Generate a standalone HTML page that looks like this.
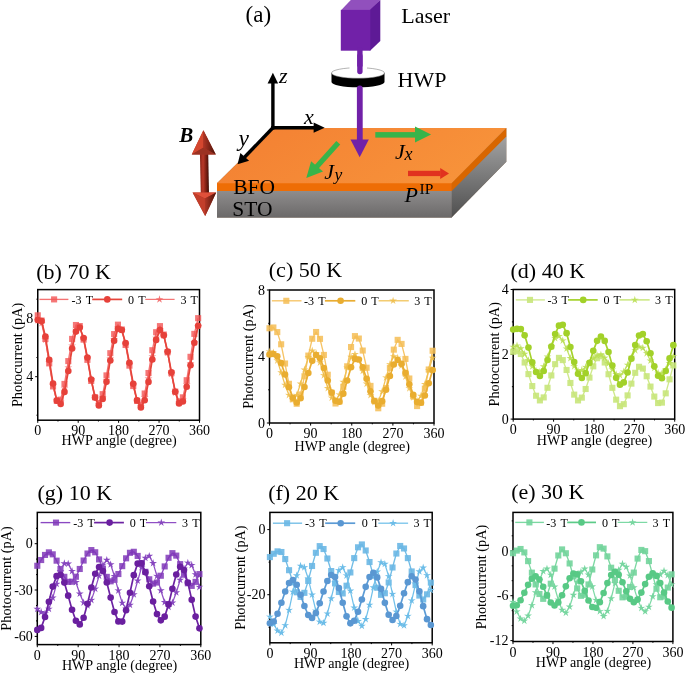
<!DOCTYPE html>
<html><head><meta charset="utf-8"><style>
html,body{margin:0;padding:0;background:#fff;width:685px;height:673px;overflow:hidden}
svg{display:block;will-change:transform}
</style></head><body>
<svg width="685" height="673" viewBox="0 0 685 673">
<rect width="685" height="673" fill="#fff"/>
<defs>
<linearGradient id="gTop" x1="0" y1="0" x2="1" y2="0.3">
 <stop offset="0" stop-color="#f37f32"/><stop offset="1" stop-color="#f7923a"/></linearGradient>
<linearGradient id="gSTOf" x1="0" y1="0" x2="0" y2="1">
 <stop offset="0" stop-color="#8f8d8d"/><stop offset="1" stop-color="#6b6969"/></linearGradient>
<linearGradient id="gSTOr" x1="0" y1="0" x2="0" y2="1">
 <stop offset="0" stop-color="#a3a3a3"/><stop offset="1" stop-color="#4f4f4f"/></linearGradient>
<linearGradient id="gB" x1="0" y1="0" x2="1" y2="0">
 <stop offset="0" stop-color="#8e2216"/><stop offset="0.3" stop-color="#d2473a"/><stop offset="0.55" stop-color="#c43a2c"/><stop offset="1" stop-color="#7a1a10"/></linearGradient>
<linearGradient id="gBh" x1="0" y1="0" x2="1" y2="0">
 <stop offset="0" stop-color="#b8392c"/><stop offset="0.45" stop-color="#e2604e"/><stop offset="0.55" stop-color="#c23828"/><stop offset="1" stop-color="#8a2418"/></linearGradient>
</defs>
<polygon points="273,128 506.3,128 506.3,161.8 451.5,217.6 217,217.6 217,183.2" fill="#8a6a50"/>
<polygon points="451.2,191 506.3,136 506.3,161.8 451.5,217.6 451.2,217.6" fill="url(#gSTOr)"/>
<rect x="217" y="190.6" width="234.7" height="27" fill="url(#gSTOf)"/>
<polygon points="451.2,183.2 506.3,128 506.3,136.4 451.5,191.2" fill="#d86600"/>
<rect x="217" y="182.8" width="234.7" height="8.2" fill="#ee6d05"/>
<polygon points="273,128 506.3,128 451.5,183.2 217,183.2" fill="url(#gTop)"/>
<polygon points="340.8,10.4 350.8,0 380.3,0 370.3,10.4" fill="#9150bd"/>
<polygon points="369.8,9.9 380.3,0 380.3,41 369.8,51" fill="#5e1a96"/>
<rect x="340.8" y="9.9" width="29.5" height="40.8" fill="#7121a8"/>
<line x1="359.9" y1="50" x2="359.9" y2="71.5" stroke="#7121a8" stroke-width="5.4" stroke-linecap="round"/>
<path d="M331.5,73 L331.5,82 A26.5,5.3 0 0 0 384.5,82 L384.5,73 Z" fill="#000"/>
<ellipse cx="358" cy="73" rx="26.5" ry="5.3" fill="#fff" stroke="#666" stroke-width="0.5"/>
<rect x="349.5" y="66.5" width="17.5" height="2.6" fill="#fff"/>
<line x1="359.9" y1="56" x2="359.9" y2="71.5" stroke="#7121a8" stroke-width="5.4" stroke-linecap="round"/>
<line x1="359.8" y1="88.5" x2="359.8" y2="140" stroke="#7121a8" stroke-width="5.8" stroke-linecap="round"/>
<polygon points="350.5,139.6 368.8,139.6 359.7,157.2" fill="#7121a8"/>
<g stroke="#000" stroke-width="3.4" fill="none"><line x1="272.9" y1="129.4" x2="272.9" y2="83"/><line x1="271.2" y1="127.7" x2="314" y2="127.7"/><line x1="273.6" y1="127.0" x2="244.5" y2="157.2"/></g>
<polygon points="267.6,83.5 278.1,83.5 272.9,72.8" fill="#000"/>
<polygon points="313.6,122.6 313.6,132.8 324.7,127.7" fill="#000"/>
<polygon points="240.4,153.1 249.1,160.7 237.6,164.2" fill="#000"/>
<rect x="375.3" y="132.1" width="40" height="5.5" fill="#37b44a"/>
<polygon points="415,126.6 415,142.5 431.1,134.5" fill="#37b44a"/>
<line x1="338.3" y1="142.8" x2="316" y2="167.5" stroke="#37b44a" stroke-width="5.2"/>
<polygon points="311.1,161.2 323,171.6 306.3,177.9" fill="#37b44a"/>
<rect x="408" y="170.8" width="32.5" height="5.3" fill="#e1321f"/>
<polygon points="440.2,168 440.2,178.9 449,173.4" fill="#e1321f"/>
<linearGradient id="gShaft" x1="0" y1="0" x2="1" y2="0"><stop offset="0" stop-color="#8a2418"/><stop offset="0.35" stop-color="#b83828"/><stop offset="0.7" stop-color="#7a1e12"/><stop offset="1" stop-color="#3a0d06"/></linearGradient>
<linearGradient id="gRF" x1="0" y1="0" x2="1" y2="0"><stop offset="0" stop-color="#b03626"/><stop offset="1" stop-color="#4a1208"/></linearGradient>
<polygon points="199.9,152 208.2,152 209,194 200.8,194" fill="url(#gShaft)"/>
<polygon points="203.4,130.3 215.8,154.5 191.8,154.5" fill="#a83424"/>
<polygon points="192.6,192.4 216.2,192.4 205.2,216" fill="#a83424"/>
<polygon points="203.4,130.3 203.2,147.7 191.8,154.5" fill="#d4472f"/>
<polygon points="203.4,130.3 215.8,154.5 203.2,147.7" fill="url(#gRF)"/>
<polygon points="191.8,154.5 203.2,147.7 215.8,154.5" fill="#9c3222"/>
<polygon points="192.6,192.4 216.2,192.4 204.9,198.6" fill="#e0503a"/>
<polygon points="192.6,192.4 204.9,198.6 205.2,216" fill="#c23e2b"/>
<polygon points="216.2,192.4 205.2,216 204.9,198.6" fill="url(#gRF)"/>
<g font-family="'Liberation Serif', serif" fill="#000">
<text x="245.6" y="22" font-size="23">(a)</text>
<text x="401.3" y="22.6" font-size="22">Laser</text>
<text x="397.6" y="87.2" font-size="22">HWP</text>
<text x="233.2" y="193.5" font-size="21.5">BFO</text>
<text x="232.3" y="216" font-size="21.5">STO</text>
<text x="279" y="83" font-size="22" font-style="italic">z</text>
<text x="304" y="124" font-size="22" font-style="italic">x</text>
<text x="238.5" y="146.3" font-size="23.5" font-style="italic">y</text>
<text x="179.2" y="141.8" font-size="21" font-style="italic" font-weight="bold">B</text>
<text x="395" y="158.5" font-size="22" font-style="italic">J</text>
<text x="404.6" y="159.8" font-size="18" font-style="italic">x</text>
<text x="324.3" y="179" font-size="22" font-style="italic">J</text>
<text x="334.5" y="180" font-size="17.5" font-style="italic">y</text>
<text x="404.5" y="201.6" font-size="22" font-style="italic">P</text>
<text x="419.5" y="193.7" font-size="15.5">IP</text>
</g>
<text x="36.3" y="278.6" font-family="'Liberation Serif', serif" font-size="22">(b) 70 K</text>
<rect x="37.75" y="289.6" width="161.75" height="130.59999999999997" fill="none" stroke="#000" stroke-width="1.5"/>
<line x1="37.75" y1="420.2" x2="37.75" y2="422.8" stroke="#000" stroke-width="1"/><line x1="57.97" y1="420.2" x2="57.97" y2="421.5" stroke="#000" stroke-width="1"/><line x1="78.19" y1="420.2" x2="78.19" y2="422.8" stroke="#000" stroke-width="1"/><line x1="98.41" y1="420.2" x2="98.41" y2="421.5" stroke="#000" stroke-width="1"/><line x1="118.62" y1="420.2" x2="118.62" y2="422.8" stroke="#000" stroke-width="1"/><line x1="138.84" y1="420.2" x2="138.84" y2="421.5" stroke="#000" stroke-width="1"/><line x1="159.06" y1="420.2" x2="159.06" y2="422.8" stroke="#000" stroke-width="1"/><line x1="179.28" y1="420.2" x2="179.28" y2="421.5" stroke="#000" stroke-width="1"/><line x1="199.50" y1="420.2" x2="199.50" y2="422.8" stroke="#000" stroke-width="1"/><line x1="37.75" y1="299.2" x2="36.45" y2="299.2" stroke="#000" stroke-width="1"/><line x1="37.75" y1="318.3" x2="35.15" y2="318.3" stroke="#000" stroke-width="1"/><line x1="37.75" y1="357.5" x2="36.45" y2="357.5" stroke="#000" stroke-width="1"/><line x1="37.75" y1="376.7" x2="35.15" y2="376.7" stroke="#000" stroke-width="1"/><line x1="37.75" y1="415.2" x2="36.45" y2="415.2" stroke="#000" stroke-width="1"/>
<g><path d="M37.75,315.32 L41.57,320.55 L45.39,338.99 L49.21,363.38 L53.03,386.43 L56.85,400.80 L60.66,399.66 L64.48,383.93 L68.30,361.11 L72.12,338.91 L75.94,325.01 L79.76,326.06 L83.58,339.63 L87.40,359.84 L91.22,380.95 L95.04,397.23 L98.86,402.93 L102.67,394.17 L106.49,375.40 L110.31,353.19 L114.13,334.10 L117.95,324.67 L121.77,329.52 L125.59,344.98 L129.41,365.64 L133.23,386.07 L137.05,400.86 L140.87,404.55 L144.68,393.51 L148.50,373.03 L152.32,350.23 L156.14,332.22 L159.96,326.11 L163.78,334.56 L167.60,352.22 L171.42,373.20 L175.24,391.60 L179.06,401.53 L182.88,397.34 L186.69,380.22 L190.51,356.82 L194.33,333.88 L198.15,318.16" fill="none" stroke="#f47272" stroke-width="1.35" stroke-opacity="1" stroke-linejoin="round"/><rect x="34.70" y="312.27" width="6.1" height="6.1" fill="#f25555" fill-opacity="0.8"/><rect x="38.52" y="317.50" width="6.1" height="6.1" fill="#f25555" fill-opacity="0.8"/><rect x="42.34" y="335.94" width="6.1" height="6.1" fill="#f25555" fill-opacity="0.8"/><rect x="46.16" y="360.33" width="6.1" height="6.1" fill="#f25555" fill-opacity="0.8"/><rect x="49.98" y="383.38" width="6.1" height="6.1" fill="#f25555" fill-opacity="0.8"/><rect x="53.80" y="397.75" width="6.1" height="6.1" fill="#f25555" fill-opacity="0.8"/><rect x="57.61" y="396.61" width="6.1" height="6.1" fill="#f25555" fill-opacity="0.8"/><rect x="61.43" y="380.88" width="6.1" height="6.1" fill="#f25555" fill-opacity="0.8"/><rect x="65.25" y="358.06" width="6.1" height="6.1" fill="#f25555" fill-opacity="0.8"/><rect x="69.07" y="335.86" width="6.1" height="6.1" fill="#f25555" fill-opacity="0.8"/><rect x="72.89" y="321.96" width="6.1" height="6.1" fill="#f25555" fill-opacity="0.8"/><rect x="76.71" y="323.01" width="6.1" height="6.1" fill="#f25555" fill-opacity="0.8"/><rect x="80.53" y="336.58" width="6.1" height="6.1" fill="#f25555" fill-opacity="0.8"/><rect x="84.35" y="356.79" width="6.1" height="6.1" fill="#f25555" fill-opacity="0.8"/><rect x="88.17" y="377.90" width="6.1" height="6.1" fill="#f25555" fill-opacity="0.8"/><rect x="91.99" y="394.18" width="6.1" height="6.1" fill="#f25555" fill-opacity="0.8"/><rect x="95.81" y="399.88" width="6.1" height="6.1" fill="#f25555" fill-opacity="0.8"/><rect x="99.62" y="391.12" width="6.1" height="6.1" fill="#f25555" fill-opacity="0.8"/><rect x="103.44" y="372.35" width="6.1" height="6.1" fill="#f25555" fill-opacity="0.8"/><rect x="107.26" y="350.14" width="6.1" height="6.1" fill="#f25555" fill-opacity="0.8"/><rect x="111.08" y="331.05" width="6.1" height="6.1" fill="#f25555" fill-opacity="0.8"/><rect x="114.90" y="321.62" width="6.1" height="6.1" fill="#f25555" fill-opacity="0.8"/><rect x="118.72" y="326.47" width="6.1" height="6.1" fill="#f25555" fill-opacity="0.8"/><rect x="122.54" y="341.93" width="6.1" height="6.1" fill="#f25555" fill-opacity="0.8"/><rect x="126.36" y="362.59" width="6.1" height="6.1" fill="#f25555" fill-opacity="0.8"/><rect x="130.18" y="383.02" width="6.1" height="6.1" fill="#f25555" fill-opacity="0.8"/><rect x="134.00" y="397.81" width="6.1" height="6.1" fill="#f25555" fill-opacity="0.8"/><rect x="137.82" y="401.50" width="6.1" height="6.1" fill="#f25555" fill-opacity="0.8"/><rect x="141.63" y="390.46" width="6.1" height="6.1" fill="#f25555" fill-opacity="0.8"/><rect x="145.45" y="369.98" width="6.1" height="6.1" fill="#f25555" fill-opacity="0.8"/><rect x="149.27" y="347.18" width="6.1" height="6.1" fill="#f25555" fill-opacity="0.8"/><rect x="153.09" y="329.17" width="6.1" height="6.1" fill="#f25555" fill-opacity="0.8"/><rect x="156.91" y="323.06" width="6.1" height="6.1" fill="#f25555" fill-opacity="0.8"/><rect x="160.73" y="331.51" width="6.1" height="6.1" fill="#f25555" fill-opacity="0.8"/><rect x="164.55" y="349.17" width="6.1" height="6.1" fill="#f25555" fill-opacity="0.8"/><rect x="168.37" y="370.15" width="6.1" height="6.1" fill="#f25555" fill-opacity="0.8"/><rect x="172.19" y="388.55" width="6.1" height="6.1" fill="#f25555" fill-opacity="0.8"/><rect x="176.01" y="398.48" width="6.1" height="6.1" fill="#f25555" fill-opacity="0.8"/><rect x="179.83" y="394.29" width="6.1" height="6.1" fill="#f25555" fill-opacity="0.8"/><rect x="183.64" y="377.17" width="6.1" height="6.1" fill="#f25555" fill-opacity="0.8"/><rect x="187.46" y="353.77" width="6.1" height="6.1" fill="#f25555" fill-opacity="0.8"/><rect x="191.28" y="330.83" width="6.1" height="6.1" fill="#f25555" fill-opacity="0.8"/><rect x="195.10" y="315.11" width="6.1" height="6.1" fill="#f25555" fill-opacity="0.8"/><path d="M37.75,320.36 L41.57,323.30 L45.39,339.74 L49.21,362.81 L53.03,385.50 L56.85,400.79 L60.66,401.91 L64.48,388.66 L68.30,367.65 L72.12,345.82 L75.94,330.13 L79.76,327.35 L83.58,338.49 L87.40,357.83 L91.22,379.31 L95.04,396.88 L98.86,404.49 L102.67,397.74 L106.49,380.42 L110.31,358.80 L114.13,339.19 L117.95,327.85 L121.77,330.19 L125.59,344.17 L129.41,364.28 L133.23,385.02 L137.05,400.91 L140.87,406.42 L144.68,397.55 L148.50,378.70 L152.32,356.59 L156.14,337.96 L159.96,329.53 L163.78,335.88 L167.60,352.78 L171.42,373.85 L175.24,392.72 L179.06,403.01 L182.88,399.47 L186.69,384.48 L190.51,363.61 L194.33,342.39 L198.15,326.38" fill="none" stroke="#f47575" stroke-width="1.25" stroke-opacity="1" stroke-linejoin="round"/><path d="M37.75,316.26 L38.62,319.17 L41.65,319.10 L39.15,320.82 L40.16,323.68 L37.75,321.84 L35.34,323.68 L36.35,320.82 L33.85,319.10 L36.88,319.17Z" fill="#f26262" fill-opacity="0.85"/><path d="M41.57,319.20 L42.44,322.11 L45.47,322.04 L42.97,323.76 L43.98,326.62 L41.57,324.78 L39.16,326.62 L40.17,323.76 L37.67,322.04 L40.70,322.11Z" fill="#f26262" fill-opacity="0.85"/><path d="M45.39,335.64 L46.26,338.54 L49.29,338.47 L46.79,340.19 L47.80,343.05 L45.39,341.21 L42.98,343.05 L43.98,340.19 L41.49,338.47 L44.52,338.54Z" fill="#f26262" fill-opacity="0.85"/><path d="M49.21,358.71 L50.07,361.61 L53.11,361.54 L50.61,363.26 L51.62,366.12 L49.21,364.28 L46.80,366.12 L47.80,363.26 L45.31,361.54 L48.34,361.61Z" fill="#f26262" fill-opacity="0.85"/><path d="M53.03,381.40 L53.89,384.30 L56.93,384.23 L54.43,385.95 L55.44,388.81 L53.03,386.97 L50.62,388.81 L51.62,385.95 L49.13,384.23 L52.16,384.30Z" fill="#f26262" fill-opacity="0.85"/><path d="M56.85,396.69 L57.71,399.59 L60.74,399.52 L58.25,401.24 L59.26,404.10 L56.85,402.26 L54.44,404.10 L55.44,401.24 L52.95,399.52 L55.98,399.59Z" fill="#f26262" fill-opacity="0.85"/><path d="M60.66,397.81 L61.53,400.72 L64.56,400.65 L62.07,402.37 L63.07,405.23 L60.66,403.39 L58.25,405.23 L59.26,402.37 L56.77,400.65 L59.80,400.72Z" fill="#f26262" fill-opacity="0.85"/><path d="M64.48,384.56 L65.35,387.46 L68.38,387.39 L65.89,389.11 L66.89,391.97 L64.48,390.13 L62.07,391.97 L63.08,389.11 L60.58,387.39 L63.62,387.46Z" fill="#f26262" fill-opacity="0.85"/><path d="M68.30,363.55 L69.17,366.45 L72.20,366.38 L69.71,368.10 L70.71,370.96 L68.30,369.12 L65.89,370.96 L66.90,368.10 L64.40,366.38 L67.44,366.45Z" fill="#f26262" fill-opacity="0.85"/><path d="M72.12,341.72 L72.99,344.63 L76.02,344.56 L73.53,346.28 L74.53,349.14 L72.12,347.30 L69.71,349.14 L70.72,346.28 L68.22,344.56 L71.25,344.63Z" fill="#f26262" fill-opacity="0.85"/><path d="M75.94,326.03 L76.81,328.94 L79.84,328.86 L77.34,330.59 L78.35,333.45 L75.94,331.61 L73.53,333.45 L74.54,330.59 L72.04,328.86 L75.07,328.94Z" fill="#f26262" fill-opacity="0.85"/><path d="M79.76,323.25 L80.63,326.15 L83.66,326.08 L81.16,327.80 L82.17,330.66 L79.76,328.82 L77.35,330.66 L78.36,327.80 L75.86,326.08 L78.89,326.15Z" fill="#f26262" fill-opacity="0.85"/><path d="M83.58,334.39 L84.45,337.30 L87.48,337.22 L84.98,338.95 L85.99,341.81 L83.58,339.97 L81.17,341.81 L82.18,338.95 L79.68,337.22 L82.71,337.30Z" fill="#f26262" fill-opacity="0.85"/><path d="M87.40,353.73 L88.27,356.64 L91.30,356.56 L88.80,358.29 L89.81,361.15 L87.40,359.31 L84.99,361.15 L85.99,358.29 L83.50,356.56 L86.53,356.64Z" fill="#f26262" fill-opacity="0.85"/><path d="M91.22,375.21 L92.08,378.12 L95.12,378.04 L92.62,379.77 L93.63,382.63 L91.22,380.79 L88.81,382.63 L89.81,379.77 L87.32,378.04 L90.35,378.12Z" fill="#f26262" fill-opacity="0.85"/><path d="M95.04,392.78 L95.90,395.69 L98.94,395.61 L96.44,397.34 L97.45,400.20 L95.04,398.36 L92.63,400.20 L93.63,397.34 L91.14,395.61 L94.17,395.69Z" fill="#f26262" fill-opacity="0.85"/><path d="M98.86,400.39 L99.72,403.29 L102.75,403.22 L100.26,404.94 L101.27,407.81 L98.86,405.96 L96.45,407.81 L97.45,404.94 L94.96,403.22 L97.99,403.29Z" fill="#f26262" fill-opacity="0.85"/><path d="M102.67,393.64 L103.54,396.54 L106.57,396.47 L104.08,398.20 L105.08,401.06 L102.67,399.22 L100.26,401.06 L101.27,398.20 L98.78,396.47 L101.81,396.54Z" fill="#f26262" fill-opacity="0.85"/><path d="M106.49,376.32 L107.36,379.22 L110.39,379.15 L107.90,380.87 L108.90,383.73 L106.49,381.89 L104.08,383.73 L105.09,380.87 L102.59,379.15 L105.63,379.22Z" fill="#f26262" fill-opacity="0.85"/><path d="M110.31,354.70 L111.18,357.61 L114.21,357.54 L111.72,359.26 L112.72,362.12 L110.31,360.28 L107.90,362.12 L108.91,359.26 L106.41,357.54 L109.45,357.61Z" fill="#f26262" fill-opacity="0.85"/><path d="M114.13,335.09 L115.00,337.99 L118.03,337.92 L115.54,339.64 L116.54,342.50 L114.13,340.66 L111.72,342.50 L112.73,339.64 L110.23,337.92 L113.26,337.99Z" fill="#f26262" fill-opacity="0.85"/><path d="M117.95,323.75 L118.82,326.66 L121.85,326.59 L119.35,328.31 L120.36,331.17 L117.95,329.33 L115.54,331.17 L116.55,328.31 L114.05,326.59 L117.08,326.66Z" fill="#f26262" fill-opacity="0.85"/><path d="M121.77,326.09 L122.64,329.00 L125.67,328.93 L123.17,330.65 L124.18,333.51 L121.77,331.67 L119.36,333.51 L120.37,330.65 L117.87,328.93 L120.90,329.00Z" fill="#f26262" fill-opacity="0.85"/><path d="M125.59,340.07 L126.46,342.97 L129.49,342.90 L126.99,344.62 L128.00,347.49 L125.59,345.64 L123.18,347.49 L124.19,344.62 L121.69,342.90 L124.72,342.97Z" fill="#f26262" fill-opacity="0.85"/><path d="M129.41,360.18 L130.28,363.08 L133.31,363.01 L130.81,364.73 L131.82,367.60 L129.41,365.75 L127.00,367.60 L128.00,364.73 L125.51,363.01 L128.54,363.08Z" fill="#f26262" fill-opacity="0.85"/><path d="M133.23,380.92 L134.10,383.83 L137.13,383.76 L134.63,385.48 L135.64,388.34 L133.23,386.50 L130.82,388.34 L131.82,385.48 L129.33,383.76 L132.36,383.83Z" fill="#f26262" fill-opacity="0.85"/><path d="M137.05,396.81 L137.91,399.71 L140.95,399.64 L138.45,401.36 L139.46,404.23 L137.05,402.38 L134.64,404.23 L135.64,401.36 L133.15,399.64 L136.18,399.71Z" fill="#f26262" fill-opacity="0.85"/><path d="M140.87,402.32 L141.73,405.23 L144.76,405.15 L142.27,406.88 L143.28,409.74 L140.87,407.90 L138.46,409.74 L139.46,406.88 L136.97,405.15 L140.00,405.23Z" fill="#f26262" fill-opacity="0.85"/><path d="M144.68,393.45 L145.55,396.36 L148.58,396.29 L146.09,398.01 L147.09,400.87 L144.68,399.03 L142.27,400.87 L143.28,398.01 L140.79,396.29 L143.82,396.36Z" fill="#f26262" fill-opacity="0.85"/><path d="M148.50,374.60 L149.37,377.50 L152.40,377.43 L149.91,379.15 L150.91,382.01 L148.50,380.17 L146.09,382.01 L147.10,379.15 L144.60,377.43 L147.64,377.50Z" fill="#f26262" fill-opacity="0.85"/><path d="M152.32,352.49 L153.19,355.39 L156.22,355.32 L153.73,357.04 L154.73,359.90 L152.32,358.06 L149.91,359.90 L150.92,357.04 L148.42,355.32 L151.46,355.39Z" fill="#f26262" fill-opacity="0.85"/><path d="M156.14,333.86 L157.01,336.76 L160.04,336.69 L157.55,338.41 L158.55,341.27 L156.14,339.43 L153.73,341.27 L154.74,338.41 L152.24,336.69 L155.27,336.76Z" fill="#f26262" fill-opacity="0.85"/><path d="M159.96,325.43 L160.83,328.34 L163.86,328.27 L161.36,329.99 L162.37,332.85 L159.96,331.01 L157.55,332.85 L158.56,329.99 L156.06,328.27 L159.09,328.34Z" fill="#f26262" fill-opacity="0.85"/><path d="M163.78,331.78 L164.65,334.69 L167.68,334.62 L165.18,336.34 L166.19,339.20 L163.78,337.36 L161.37,339.20 L162.38,336.34 L159.88,334.62 L162.91,334.69Z" fill="#f26262" fill-opacity="0.85"/><path d="M167.60,348.68 L168.47,351.59 L171.50,351.51 L169.00,353.24 L170.01,356.10 L167.60,354.26 L165.19,356.10 L166.20,353.24 L163.70,351.51 L166.73,351.59Z" fill="#f26262" fill-opacity="0.85"/><path d="M171.42,369.75 L172.29,372.65 L175.32,372.58 L172.82,374.30 L173.83,377.16 L171.42,375.32 L169.01,377.16 L170.01,374.30 L167.52,372.58 L170.55,372.65Z" fill="#f26262" fill-opacity="0.85"/><path d="M175.24,388.62 L176.11,391.52 L179.14,391.45 L176.64,393.17 L177.65,396.03 L175.24,394.19 L172.83,396.03 L173.83,393.17 L171.34,391.45 L174.37,391.52Z" fill="#f26262" fill-opacity="0.85"/><path d="M179.06,398.91 L179.92,401.82 L182.96,401.75 L180.46,403.47 L181.47,406.33 L179.06,404.49 L176.65,406.33 L177.65,403.47 L175.16,401.75 L178.19,401.82Z" fill="#f26262" fill-opacity="0.85"/><path d="M182.88,395.37 L183.74,398.27 L186.78,398.20 L184.28,399.92 L185.29,402.78 L182.88,400.94 L180.47,402.78 L181.47,399.92 L178.98,398.20 L182.01,398.27Z" fill="#f26262" fill-opacity="0.85"/><path d="M186.69,380.38 L187.56,383.29 L190.59,383.22 L188.10,384.94 L189.10,387.80 L186.69,385.96 L184.28,387.80 L185.29,384.94 L182.80,383.22 L185.83,383.29Z" fill="#f26262" fill-opacity="0.85"/><path d="M190.51,359.51 L191.38,362.41 L194.41,362.34 L191.92,364.06 L192.92,366.93 L190.51,365.08 L188.10,366.93 L189.11,364.06 L186.61,362.34 L189.65,362.41Z" fill="#f26262" fill-opacity="0.85"/><path d="M194.33,338.29 L195.20,341.20 L198.23,341.12 L195.74,342.85 L196.74,345.71 L194.33,343.87 L191.92,345.71 L192.93,342.85 L190.43,341.12 L193.47,341.20Z" fill="#f26262" fill-opacity="0.85"/><path d="M198.15,322.28 L199.02,325.18 L202.05,325.11 L199.56,326.83 L200.56,329.70 L198.15,327.85 L195.74,329.70 L196.75,326.83 L194.25,325.11 L197.28,325.18Z" fill="#f26262" fill-opacity="0.85"/><path d="M37.75,320.11 L41.57,321.08 L45.39,336.54 L49.21,359.76 L53.03,383.53 L56.85,400.64 L60.66,403.98 L64.48,391.92 L68.30,371.01 L72.12,348.50 L75.94,331.62 L79.76,327.52 L83.58,338.10 L87.40,357.56 L91.22,379.52 L95.04,397.62 L98.86,405.49 L102.67,398.88 L106.49,381.85 L110.31,360.46 L114.13,340.74 L117.95,328.77 L121.77,329.99 L125.59,343.12 L129.41,362.81 L133.23,383.69 L137.05,400.38 L140.87,407.49 L144.68,400.24 L148.50,381.90 L152.32,359.45 L156.14,339.88 L159.96,330.17 L163.78,335.35 L167.60,351.50 L171.42,372.37 L175.24,391.74 L179.06,403.39 L182.88,401.50 L186.69,386.78 L190.51,365.18 L194.33,342.81 L198.15,325.76" fill="none" stroke="#e6453b" stroke-width="1.7" stroke-opacity="1" stroke-linejoin="round"/><circle cx="37.75" cy="320.11" r="3.3" fill="#e6413a" fill-opacity="1"/><circle cx="41.57" cy="321.08" r="3.3" fill="#e6413a" fill-opacity="1"/><circle cx="45.39" cy="336.54" r="3.3" fill="#e6413a" fill-opacity="1"/><circle cx="49.21" cy="359.76" r="3.3" fill="#e6413a" fill-opacity="1"/><circle cx="53.03" cy="383.53" r="3.3" fill="#e6413a" fill-opacity="1"/><circle cx="56.85" cy="400.64" r="3.3" fill="#e6413a" fill-opacity="1"/><circle cx="60.66" cy="403.98" r="3.3" fill="#e6413a" fill-opacity="1"/><circle cx="64.48" cy="391.92" r="3.3" fill="#e6413a" fill-opacity="1"/><circle cx="68.30" cy="371.01" r="3.3" fill="#e6413a" fill-opacity="1"/><circle cx="72.12" cy="348.50" r="3.3" fill="#e6413a" fill-opacity="1"/><circle cx="75.94" cy="331.62" r="3.3" fill="#e6413a" fill-opacity="1"/><circle cx="79.76" cy="327.52" r="3.3" fill="#e6413a" fill-opacity="1"/><circle cx="83.58" cy="338.10" r="3.3" fill="#e6413a" fill-opacity="1"/><circle cx="87.40" cy="357.56" r="3.3" fill="#e6413a" fill-opacity="1"/><circle cx="91.22" cy="379.52" r="3.3" fill="#e6413a" fill-opacity="1"/><circle cx="95.04" cy="397.62" r="3.3" fill="#e6413a" fill-opacity="1"/><circle cx="98.86" cy="405.49" r="3.3" fill="#e6413a" fill-opacity="1"/><circle cx="102.67" cy="398.88" r="3.3" fill="#e6413a" fill-opacity="1"/><circle cx="106.49" cy="381.85" r="3.3" fill="#e6413a" fill-opacity="1"/><circle cx="110.31" cy="360.46" r="3.3" fill="#e6413a" fill-opacity="1"/><circle cx="114.13" cy="340.74" r="3.3" fill="#e6413a" fill-opacity="1"/><circle cx="117.95" cy="328.77" r="3.3" fill="#e6413a" fill-opacity="1"/><circle cx="121.77" cy="329.99" r="3.3" fill="#e6413a" fill-opacity="1"/><circle cx="125.59" cy="343.12" r="3.3" fill="#e6413a" fill-opacity="1"/><circle cx="129.41" cy="362.81" r="3.3" fill="#e6413a" fill-opacity="1"/><circle cx="133.23" cy="383.69" r="3.3" fill="#e6413a" fill-opacity="1"/><circle cx="137.05" cy="400.38" r="3.3" fill="#e6413a" fill-opacity="1"/><circle cx="140.87" cy="407.49" r="3.3" fill="#e6413a" fill-opacity="1"/><circle cx="144.68" cy="400.24" r="3.3" fill="#e6413a" fill-opacity="1"/><circle cx="148.50" cy="381.90" r="3.3" fill="#e6413a" fill-opacity="1"/><circle cx="152.32" cy="359.45" r="3.3" fill="#e6413a" fill-opacity="1"/><circle cx="156.14" cy="339.88" r="3.3" fill="#e6413a" fill-opacity="1"/><circle cx="159.96" cy="330.17" r="3.3" fill="#e6413a" fill-opacity="1"/><circle cx="163.78" cy="335.35" r="3.3" fill="#e6413a" fill-opacity="1"/><circle cx="167.60" cy="351.50" r="3.3" fill="#e6413a" fill-opacity="1"/><circle cx="171.42" cy="372.37" r="3.3" fill="#e6413a" fill-opacity="1"/><circle cx="175.24" cy="391.74" r="3.3" fill="#e6413a" fill-opacity="1"/><circle cx="179.06" cy="403.39" r="3.3" fill="#e6413a" fill-opacity="1"/><circle cx="182.88" cy="401.50" r="3.3" fill="#e6413a" fill-opacity="1"/><circle cx="186.69" cy="386.78" r="3.3" fill="#e6413a" fill-opacity="1"/><circle cx="190.51" cy="365.18" r="3.3" fill="#e6413a" fill-opacity="1"/><circle cx="194.33" cy="342.81" r="3.3" fill="#e6413a" fill-opacity="1"/><circle cx="198.15" cy="325.76" r="3.3" fill="#e6413a" fill-opacity="1"/></g>
<line x1="39.4" y1="299.4" x2="68.4" y2="299.4" stroke="#f47272" stroke-width="1.35" stroke-opacity="1"/>
<rect x="51.05" y="296.35" width="6.1" height="6.1" fill="#f25555" fill-opacity="0.8"/>
<text x="71.60000000000001" y="303.59999999999997" font-family="'Liberation Serif', serif" font-size="12.1" word-spacing="1.3">-3 T</text>
<line x1="92.2" y1="299.4" x2="122.2" y2="299.4" stroke="#e6453b" stroke-width="1.7" stroke-opacity="1"/>
<circle cx="107.30" cy="299.40" r="3.3" fill="#e6413a" fill-opacity="1"/>
<text x="128.1" y="303.59999999999997" font-family="'Liberation Serif', serif" font-size="12.1" word-spacing="1.3">0 T</text>
<line x1="145.3" y1="299.4" x2="174.6" y2="299.4" stroke="#f47575" stroke-width="1.25" stroke-opacity="1"/>
<path d="M159.50,295.30 L160.37,298.21 L163.40,298.13 L160.90,299.86 L161.91,302.72 L159.50,300.88 L157.09,302.72 L158.10,299.86 L155.60,298.13 L158.63,298.21Z" fill="#f26262" fill-opacity="0.85"/>
<text x="180.4" y="303.59999999999997" font-family="'Liberation Serif', serif" font-size="12.1" word-spacing="1.3">3 T</text>
<g font-family="'Liberation Serif', serif" font-size="14">
<text x="37.75" y="435.2" text-anchor="middle">0</text>
<text x="78.19" y="435.2" text-anchor="middle">90</text>
<text x="118.62" y="435.2" text-anchor="middle">180</text>
<text x="159.06" y="435.2" text-anchor="middle">270</text>
<text x="199.50" y="435.2" text-anchor="middle">360</text>
<text x="33.25" y="323.0" text-anchor="end">8</text>
<text x="33.25" y="381.4" text-anchor="end">4</text>
<text x="119.12" y="444.7" text-anchor="middle" font-size="14.1">HWP angle (degree)</text>
<text transform="translate(22,354.90) rotate(-90)" text-anchor="middle" font-size="14.3">Photocurrent (pA)</text>
</g>
<text x="268.8" y="276.7" font-family="'Liberation Serif', serif" font-size="22">(c) 50 K</text>
<rect x="269.5" y="290" width="164.5" height="133" fill="none" stroke="#000" stroke-width="1.5"/>
<line x1="269.50" y1="423" x2="269.50" y2="425.6" stroke="#000" stroke-width="1"/><line x1="290.06" y1="423" x2="290.06" y2="424.3" stroke="#000" stroke-width="1"/><line x1="310.62" y1="423" x2="310.62" y2="425.6" stroke="#000" stroke-width="1"/><line x1="331.19" y1="423" x2="331.19" y2="424.3" stroke="#000" stroke-width="1"/><line x1="351.75" y1="423" x2="351.75" y2="425.6" stroke="#000" stroke-width="1"/><line x1="372.31" y1="423" x2="372.31" y2="424.3" stroke="#000" stroke-width="1"/><line x1="392.88" y1="423" x2="392.88" y2="425.6" stroke="#000" stroke-width="1"/><line x1="413.44" y1="423" x2="413.44" y2="424.3" stroke="#000" stroke-width="1"/><line x1="434.00" y1="423" x2="434.00" y2="425.6" stroke="#000" stroke-width="1"/><line x1="269.5" y1="290" x2="266.9" y2="290" stroke="#000" stroke-width="1"/><line x1="269.5" y1="323.3" x2="268.2" y2="323.3" stroke="#000" stroke-width="1"/><line x1="269.5" y1="356.5" x2="266.9" y2="356.5" stroke="#000" stroke-width="1"/><line x1="269.5" y1="389.8" x2="268.2" y2="389.8" stroke="#000" stroke-width="1"/><line x1="269.5" y1="423" x2="266.9" y2="423" stroke="#000" stroke-width="1"/>
<g><path d="M269.50,328.27 L273.38,327.50 L277.27,332.11 L281.15,344.29 L285.04,363.51 L288.92,383.81 L292.80,399.21 L296.69,403.75 L300.57,394.43 L304.46,376.27 L308.34,355.59 L312.22,338.73 L316.11,332.01 L319.99,338.86 L323.88,354.95 L327.76,374.75 L331.64,392.76 L335.53,403.48 L339.41,401.45 L343.30,386.79 L347.18,366.30 L351.06,347.05 L354.95,336.11 L358.83,338.55 L362.72,350.54 L366.60,367.73 L370.48,385.89 L374.37,400.81 L378.25,408.27 L382.14,403.72 L386.02,388.11 L389.90,367.90 L393.79,349.64 L397.67,339.86 L401.56,343.92 L405.44,358.92 L409.32,378.52 L413.21,396.35 L417.09,406.08 L420.98,402.60 L424.86,388.59 L428.75,369.50 L432.63,350.75" fill="none" stroke="#f6c466" stroke-width="1.35" stroke-opacity="1" stroke-linejoin="round"/><rect x="266.45" y="325.22" width="6.1" height="6.1" fill="#f4bd55" fill-opacity="0.85"/><rect x="270.33" y="324.45" width="6.1" height="6.1" fill="#f4bd55" fill-opacity="0.85"/><rect x="274.22" y="329.06" width="6.1" height="6.1" fill="#f4bd55" fill-opacity="0.85"/><rect x="278.10" y="341.24" width="6.1" height="6.1" fill="#f4bd55" fill-opacity="0.85"/><rect x="281.99" y="360.46" width="6.1" height="6.1" fill="#f4bd55" fill-opacity="0.85"/><rect x="285.87" y="380.76" width="6.1" height="6.1" fill="#f4bd55" fill-opacity="0.85"/><rect x="289.75" y="396.16" width="6.1" height="6.1" fill="#f4bd55" fill-opacity="0.85"/><rect x="293.64" y="400.70" width="6.1" height="6.1" fill="#f4bd55" fill-opacity="0.85"/><rect x="297.52" y="391.38" width="6.1" height="6.1" fill="#f4bd55" fill-opacity="0.85"/><rect x="301.41" y="373.22" width="6.1" height="6.1" fill="#f4bd55" fill-opacity="0.85"/><rect x="305.29" y="352.54" width="6.1" height="6.1" fill="#f4bd55" fill-opacity="0.85"/><rect x="309.17" y="335.68" width="6.1" height="6.1" fill="#f4bd55" fill-opacity="0.85"/><rect x="313.06" y="328.96" width="6.1" height="6.1" fill="#f4bd55" fill-opacity="0.85"/><rect x="316.94" y="335.81" width="6.1" height="6.1" fill="#f4bd55" fill-opacity="0.85"/><rect x="320.83" y="351.90" width="6.1" height="6.1" fill="#f4bd55" fill-opacity="0.85"/><rect x="324.71" y="371.70" width="6.1" height="6.1" fill="#f4bd55" fill-opacity="0.85"/><rect x="328.59" y="389.71" width="6.1" height="6.1" fill="#f4bd55" fill-opacity="0.85"/><rect x="332.48" y="400.43" width="6.1" height="6.1" fill="#f4bd55" fill-opacity="0.85"/><rect x="336.36" y="398.40" width="6.1" height="6.1" fill="#f4bd55" fill-opacity="0.85"/><rect x="340.25" y="383.74" width="6.1" height="6.1" fill="#f4bd55" fill-opacity="0.85"/><rect x="344.13" y="363.25" width="6.1" height="6.1" fill="#f4bd55" fill-opacity="0.85"/><rect x="348.01" y="344.00" width="6.1" height="6.1" fill="#f4bd55" fill-opacity="0.85"/><rect x="351.90" y="333.06" width="6.1" height="6.1" fill="#f4bd55" fill-opacity="0.85"/><rect x="355.78" y="335.50" width="6.1" height="6.1" fill="#f4bd55" fill-opacity="0.85"/><rect x="359.67" y="347.49" width="6.1" height="6.1" fill="#f4bd55" fill-opacity="0.85"/><rect x="363.55" y="364.68" width="6.1" height="6.1" fill="#f4bd55" fill-opacity="0.85"/><rect x="367.43" y="382.84" width="6.1" height="6.1" fill="#f4bd55" fill-opacity="0.85"/><rect x="371.32" y="397.76" width="6.1" height="6.1" fill="#f4bd55" fill-opacity="0.85"/><rect x="375.20" y="405.22" width="6.1" height="6.1" fill="#f4bd55" fill-opacity="0.85"/><rect x="379.09" y="400.67" width="6.1" height="6.1" fill="#f4bd55" fill-opacity="0.85"/><rect x="382.97" y="385.06" width="6.1" height="6.1" fill="#f4bd55" fill-opacity="0.85"/><rect x="386.85" y="364.85" width="6.1" height="6.1" fill="#f4bd55" fill-opacity="0.85"/><rect x="390.74" y="346.59" width="6.1" height="6.1" fill="#f4bd55" fill-opacity="0.85"/><rect x="394.62" y="336.81" width="6.1" height="6.1" fill="#f4bd55" fill-opacity="0.85"/><rect x="398.51" y="340.87" width="6.1" height="6.1" fill="#f4bd55" fill-opacity="0.85"/><rect x="402.39" y="355.87" width="6.1" height="6.1" fill="#f4bd55" fill-opacity="0.85"/><rect x="406.27" y="375.47" width="6.1" height="6.1" fill="#f4bd55" fill-opacity="0.85"/><rect x="410.16" y="393.30" width="6.1" height="6.1" fill="#f4bd55" fill-opacity="0.85"/><rect x="414.04" y="403.03" width="6.1" height="6.1" fill="#f4bd55" fill-opacity="0.85"/><rect x="417.93" y="399.55" width="6.1" height="6.1" fill="#f4bd55" fill-opacity="0.85"/><rect x="421.81" y="385.54" width="6.1" height="6.1" fill="#f4bd55" fill-opacity="0.85"/><rect x="425.70" y="366.45" width="6.1" height="6.1" fill="#f4bd55" fill-opacity="0.85"/><rect x="429.58" y="347.70" width="6.1" height="6.1" fill="#f4bd55" fill-opacity="0.85"/><path d="M269.50,351.64 L273.38,352.59 L277.27,360.57 L281.15,372.45 L285.04,385.03 L288.92,395.11 L292.80,399.49 L296.69,395.12 L300.57,383.75 L304.46,369.69 L308.34,357.24 L312.22,350.72 L316.11,353.24 L319.99,362.56 L323.88,375.32 L327.76,388.19 L331.64,397.83 L335.53,400.89 L339.41,394.57 L343.30,381.94 L347.18,367.82 L351.06,357.02 L354.95,354.27 L358.83,360.05 L362.72,370.98 L366.60,383.81 L370.48,395.31 L374.37,402.23 L378.25,401.17 L382.14,391.46 L386.02,377.57 L389.90,364.33 L393.79,356.55 L397.67,357.83 L401.56,365.61 L405.44,376.79 L409.32,388.39 L413.21,397.45 L417.09,401.00 L420.98,395.96 L424.86,384.24 L428.75,370.15 L432.63,358.00" fill="none" stroke="#f1c154" stroke-width="1.25" stroke-opacity="1" stroke-linejoin="round"/><path d="M269.50,347.54 L270.37,350.45 L273.40,350.37 L270.90,352.10 L271.91,354.96 L269.50,353.12 L267.09,354.96 L268.10,352.10 L265.60,350.37 L268.63,350.45Z" fill="#efbc48" fill-opacity="0.85"/><path d="M273.38,348.49 L274.25,351.39 L277.28,351.32 L274.79,353.04 L275.79,355.90 L273.38,354.06 L270.97,355.90 L271.98,353.04 L269.48,351.32 L272.52,351.39Z" fill="#efbc48" fill-opacity="0.85"/><path d="M277.27,356.47 L278.14,359.37 L281.17,359.30 L278.67,361.02 L279.68,363.88 L277.27,362.04 L274.86,363.88 L275.86,361.02 L273.37,359.30 L276.40,359.37Z" fill="#efbc48" fill-opacity="0.85"/><path d="M281.15,368.35 L282.02,371.26 L285.05,371.18 L282.56,372.91 L283.56,375.77 L281.15,373.93 L278.74,375.77 L279.75,372.91 L277.25,371.18 L280.28,371.26Z" fill="#efbc48" fill-opacity="0.85"/><path d="M285.04,380.93 L285.90,383.84 L288.94,383.77 L286.44,385.49 L287.45,388.35 L285.04,386.51 L282.63,388.35 L283.63,385.49 L281.14,383.77 L284.17,383.84Z" fill="#efbc48" fill-opacity="0.85"/><path d="M288.92,391.01 L289.79,393.92 L292.82,393.85 L290.32,395.57 L291.33,398.43 L288.92,396.59 L286.51,398.43 L287.52,395.57 L285.02,393.85 L288.05,393.92Z" fill="#efbc48" fill-opacity="0.85"/><path d="M292.80,395.39 L293.67,398.29 L296.70,398.22 L294.21,399.94 L295.21,402.81 L292.80,400.96 L290.39,402.81 L291.40,399.94 L288.90,398.22 L291.94,398.29Z" fill="#efbc48" fill-opacity="0.85"/><path d="M296.69,391.02 L297.56,393.92 L300.59,393.85 L298.09,395.57 L299.10,398.43 L296.69,396.59 L294.28,398.43 L295.28,395.57 L292.79,393.85 L295.82,393.92Z" fill="#efbc48" fill-opacity="0.85"/><path d="M300.57,379.65 L301.44,382.55 L304.47,382.48 L301.98,384.20 L302.98,387.06 L300.57,385.22 L298.16,387.06 L299.17,384.20 L296.67,382.48 L299.70,382.55Z" fill="#efbc48" fill-opacity="0.85"/><path d="M304.46,365.59 L305.32,368.49 L308.36,368.42 L305.86,370.14 L306.87,373.00 L304.46,371.16 L302.05,373.00 L303.05,370.14 L300.56,368.42 L303.59,368.49Z" fill="#efbc48" fill-opacity="0.85"/><path d="M308.34,353.14 L309.21,356.05 L312.24,355.97 L309.74,357.70 L310.75,360.56 L308.34,358.72 L305.93,360.56 L306.94,357.70 L304.44,355.97 L307.47,356.05Z" fill="#efbc48" fill-opacity="0.85"/><path d="M312.22,346.62 L313.09,349.52 L316.12,349.45 L313.63,351.17 L314.63,354.03 L312.22,352.19 L309.81,354.03 L310.82,351.17 L308.32,349.45 L311.36,349.52Z" fill="#efbc48" fill-opacity="0.85"/><path d="M316.11,349.14 L316.98,352.05 L320.01,351.97 L317.51,353.70 L318.52,356.56 L316.11,354.72 L313.70,356.56 L314.70,353.70 L312.21,351.97 L315.24,352.05Z" fill="#efbc48" fill-opacity="0.85"/><path d="M319.99,358.46 L320.86,361.37 L323.89,361.29 L321.40,363.02 L322.40,365.88 L319.99,364.04 L317.58,365.88 L318.59,363.02 L316.09,361.29 L319.12,361.37Z" fill="#efbc48" fill-opacity="0.85"/><path d="M323.88,371.22 L324.74,374.13 L327.78,374.06 L325.28,375.78 L326.29,378.64 L323.88,376.80 L321.47,378.64 L322.47,375.78 L319.98,374.06 L323.01,374.13Z" fill="#efbc48" fill-opacity="0.85"/><path d="M327.76,384.09 L328.63,387.00 L331.66,386.93 L329.16,388.65 L330.17,391.51 L327.76,389.67 L325.35,391.51 L326.36,388.65 L323.86,386.93 L326.89,387.00Z" fill="#efbc48" fill-opacity="0.85"/><path d="M331.64,393.73 L332.51,396.64 L335.54,396.57 L333.05,398.29 L334.05,401.15 L331.64,399.31 L329.23,401.15 L330.24,398.29 L327.75,396.57 L330.78,396.64Z" fill="#efbc48" fill-opacity="0.85"/><path d="M335.53,396.79 L336.40,399.70 L339.43,399.63 L336.93,401.35 L337.94,404.21 L335.53,402.37 L333.12,404.21 L334.12,401.35 L331.63,399.63 L334.66,399.70Z" fill="#efbc48" fill-opacity="0.85"/><path d="M339.41,390.47 L340.28,393.38 L343.31,393.31 L340.82,395.03 L341.82,397.89 L339.41,396.05 L337.00,397.89 L338.01,395.03 L335.51,393.31 L338.54,393.38Z" fill="#efbc48" fill-opacity="0.85"/><path d="M343.30,377.84 L344.16,380.75 L347.20,380.67 L344.70,382.40 L345.71,385.26 L343.30,383.42 L340.89,385.26 L341.89,382.40 L339.40,380.67 L342.43,380.75Z" fill="#efbc48" fill-opacity="0.85"/><path d="M347.18,363.72 L348.05,366.62 L351.08,366.55 L348.58,368.27 L349.59,371.13 L347.18,369.29 L344.77,371.13 L345.78,368.27 L343.28,366.55 L346.31,366.62Z" fill="#efbc48" fill-opacity="0.85"/><path d="M351.06,352.92 L351.93,355.82 L354.96,355.75 L352.47,357.47 L353.47,360.34 L351.06,358.49 L348.65,360.34 L349.66,357.47 L347.17,355.75 L350.20,355.82Z" fill="#efbc48" fill-opacity="0.85"/><path d="M354.95,350.17 L355.82,353.07 L358.85,353.00 L356.35,354.72 L357.36,357.58 L354.95,355.74 L352.54,357.58 L353.54,354.72 L351.05,353.00 L354.08,353.07Z" fill="#efbc48" fill-opacity="0.85"/><path d="M358.83,355.95 L359.70,358.86 L362.73,358.79 L360.24,360.51 L361.24,363.37 L358.83,361.53 L356.42,363.37 L357.43,360.51 L354.93,358.79 L357.97,358.86Z" fill="#efbc48" fill-opacity="0.85"/><path d="M362.72,366.88 L363.58,369.79 L366.62,369.71 L364.12,371.44 L365.13,374.30 L362.72,372.46 L360.31,374.30 L361.31,371.44 L358.82,369.71 L361.85,369.79Z" fill="#efbc48" fill-opacity="0.85"/><path d="M366.60,379.71 L367.47,382.62 L370.50,382.54 L368.00,384.27 L369.01,387.13 L366.60,385.29 L364.19,387.13 L365.20,384.27 L362.70,382.54 L365.73,382.62Z" fill="#efbc48" fill-opacity="0.85"/><path d="M370.48,391.21 L371.35,394.11 L374.38,394.04 L371.89,395.76 L372.89,398.62 L370.48,396.78 L368.07,398.62 L369.08,395.76 L366.59,394.04 L369.62,394.11Z" fill="#efbc48" fill-opacity="0.85"/><path d="M374.37,398.13 L375.24,401.04 L378.27,400.96 L375.77,402.69 L376.78,405.55 L374.37,403.71 L371.96,405.55 L372.96,402.69 L370.47,400.96 L373.50,401.04Z" fill="#efbc48" fill-opacity="0.85"/><path d="M378.25,397.07 L379.12,399.98 L382.15,399.91 L379.66,401.63 L380.66,404.49 L378.25,402.65 L375.84,404.49 L376.85,401.63 L374.35,399.91 L377.39,399.98Z" fill="#efbc48" fill-opacity="0.85"/><path d="M382.14,387.36 L383.00,390.26 L386.04,390.19 L383.54,391.91 L384.55,394.77 L382.14,392.93 L379.73,394.77 L380.73,391.91 L378.24,390.19 L381.27,390.26Z" fill="#efbc48" fill-opacity="0.85"/><path d="M386.02,373.47 L386.89,376.38 L389.92,376.30 L387.42,378.03 L388.43,380.89 L386.02,379.05 L383.61,380.89 L384.62,378.03 L382.12,376.30 L385.15,376.38Z" fill="#efbc48" fill-opacity="0.85"/><path d="M389.90,360.23 L390.77,363.13 L393.80,363.06 L391.31,364.78 L392.31,367.64 L389.90,365.80 L387.49,367.64 L388.50,364.78 L386.01,363.06 L389.04,363.13Z" fill="#efbc48" fill-opacity="0.85"/><path d="M393.79,352.45 L394.66,355.35 L397.69,355.28 L395.19,357.00 L396.20,359.87 L393.79,358.02 L391.38,359.87 L392.39,357.00 L389.89,355.28 L392.92,355.35Z" fill="#efbc48" fill-opacity="0.85"/><path d="M397.67,353.73 L398.54,356.64 L401.57,356.56 L399.08,358.29 L400.08,361.15 L397.67,359.31 L395.26,361.15 L396.27,358.29 L393.77,356.56 L396.81,356.64Z" fill="#efbc48" fill-opacity="0.85"/><path d="M401.56,361.51 L402.42,364.42 L405.46,364.34 L402.96,366.07 L403.97,368.93 L401.56,367.09 L399.15,368.93 L400.15,366.07 L397.66,364.34 L400.69,364.42Z" fill="#efbc48" fill-opacity="0.85"/><path d="M405.44,372.69 L406.31,375.59 L409.34,375.52 L406.84,377.24 L407.85,380.10 L405.44,378.26 L403.03,380.10 L404.04,377.24 L401.54,375.52 L404.57,375.59Z" fill="#efbc48" fill-opacity="0.85"/><path d="M409.32,384.29 L410.19,387.20 L413.22,387.12 L410.73,388.85 L411.73,391.71 L409.32,389.87 L406.92,391.71 L407.92,388.85 L405.43,387.12 L408.46,387.20Z" fill="#efbc48" fill-opacity="0.85"/><path d="M413.21,393.35 L414.08,396.26 L417.11,396.18 L414.61,397.91 L415.62,400.77 L413.21,398.93 L410.80,400.77 L411.81,397.91 L409.31,396.18 L412.34,396.26Z" fill="#efbc48" fill-opacity="0.85"/><path d="M417.09,396.90 L417.96,399.80 L420.99,399.73 L418.50,401.45 L419.50,404.31 L417.09,402.47 L414.68,404.31 L415.69,401.45 L413.19,399.73 L416.23,399.80Z" fill="#efbc48" fill-opacity="0.85"/><path d="M420.98,391.86 L421.84,394.76 L424.88,394.69 L422.38,396.41 L423.39,399.27 L420.98,397.43 L418.57,399.27 L419.57,396.41 L417.08,394.69 L420.11,394.76Z" fill="#efbc48" fill-opacity="0.85"/><path d="M424.86,380.14 L425.73,383.05 L428.76,382.97 L426.26,384.70 L427.27,387.56 L424.86,385.72 L422.45,387.56 L423.46,384.70 L420.96,382.97 L423.99,383.05Z" fill="#efbc48" fill-opacity="0.85"/><path d="M428.75,366.05 L429.61,368.96 L432.64,368.88 L430.15,370.61 L431.16,373.47 L428.75,371.63 L426.34,373.47 L427.34,370.61 L424.85,368.88 L427.88,368.96Z" fill="#efbc48" fill-opacity="0.85"/><path d="M432.63,353.90 L433.50,356.80 L436.53,356.73 L434.03,358.45 L435.04,361.31 L432.63,359.47 L430.22,361.31 L431.23,358.45 L428.73,356.73 L431.76,356.80Z" fill="#efbc48" fill-opacity="0.85"/><path d="M269.50,354.46 L273.38,354.01 L277.27,356.27 L281.15,363.09 L285.04,374.57 L288.92,387.26 L292.80,397.72 L296.69,402.47 L300.57,398.30 L304.46,386.98 L308.34,372.99 L312.22,360.85 L316.11,355.06 L319.99,358.35 L323.88,367.94 L327.76,380.44 L331.64,392.50 L335.53,400.76 L339.41,401.76 L343.30,393.65 L347.18,380.50 L351.06,367.27 L354.95,358.89 L358.83,359.49 L362.72,367.23 L366.60,378.84 L370.48,391.18 L374.37,401.10 L378.25,405.48 L382.14,401.14 L386.02,389.76 L389.90,376.00 L393.79,364.53 L397.67,360.01 L401.56,363.89 L405.44,372.91 L409.32,384.19 L413.21,394.86 L417.09,402.05 L420.98,402.80 L424.86,395.45 L428.75,383.23 L432.63,370.01" fill="none" stroke="#e9ad33" stroke-width="1.7" stroke-opacity="1" stroke-linejoin="round"/><circle cx="269.50" cy="354.46" r="3.3" fill="#e9ad30" fill-opacity="1"/><circle cx="273.38" cy="354.01" r="3.3" fill="#e9ad30" fill-opacity="1"/><circle cx="277.27" cy="356.27" r="3.3" fill="#e9ad30" fill-opacity="1"/><circle cx="281.15" cy="363.09" r="3.3" fill="#e9ad30" fill-opacity="1"/><circle cx="285.04" cy="374.57" r="3.3" fill="#e9ad30" fill-opacity="1"/><circle cx="288.92" cy="387.26" r="3.3" fill="#e9ad30" fill-opacity="1"/><circle cx="292.80" cy="397.72" r="3.3" fill="#e9ad30" fill-opacity="1"/><circle cx="296.69" cy="402.47" r="3.3" fill="#e9ad30" fill-opacity="1"/><circle cx="300.57" cy="398.30" r="3.3" fill="#e9ad30" fill-opacity="1"/><circle cx="304.46" cy="386.98" r="3.3" fill="#e9ad30" fill-opacity="1"/><circle cx="308.34" cy="372.99" r="3.3" fill="#e9ad30" fill-opacity="1"/><circle cx="312.22" cy="360.85" r="3.3" fill="#e9ad30" fill-opacity="1"/><circle cx="316.11" cy="355.06" r="3.3" fill="#e9ad30" fill-opacity="1"/><circle cx="319.99" cy="358.35" r="3.3" fill="#e9ad30" fill-opacity="1"/><circle cx="323.88" cy="367.94" r="3.3" fill="#e9ad30" fill-opacity="1"/><circle cx="327.76" cy="380.44" r="3.3" fill="#e9ad30" fill-opacity="1"/><circle cx="331.64" cy="392.50" r="3.3" fill="#e9ad30" fill-opacity="1"/><circle cx="335.53" cy="400.76" r="3.3" fill="#e9ad30" fill-opacity="1"/><circle cx="339.41" cy="401.76" r="3.3" fill="#e9ad30" fill-opacity="1"/><circle cx="343.30" cy="393.65" r="3.3" fill="#e9ad30" fill-opacity="1"/><circle cx="347.18" cy="380.50" r="3.3" fill="#e9ad30" fill-opacity="1"/><circle cx="351.06" cy="367.27" r="3.3" fill="#e9ad30" fill-opacity="1"/><circle cx="354.95" cy="358.89" r="3.3" fill="#e9ad30" fill-opacity="1"/><circle cx="358.83" cy="359.49" r="3.3" fill="#e9ad30" fill-opacity="1"/><circle cx="362.72" cy="367.23" r="3.3" fill="#e9ad30" fill-opacity="1"/><circle cx="366.60" cy="378.84" r="3.3" fill="#e9ad30" fill-opacity="1"/><circle cx="370.48" cy="391.18" r="3.3" fill="#e9ad30" fill-opacity="1"/><circle cx="374.37" cy="401.10" r="3.3" fill="#e9ad30" fill-opacity="1"/><circle cx="378.25" cy="405.48" r="3.3" fill="#e9ad30" fill-opacity="1"/><circle cx="382.14" cy="401.14" r="3.3" fill="#e9ad30" fill-opacity="1"/><circle cx="386.02" cy="389.76" r="3.3" fill="#e9ad30" fill-opacity="1"/><circle cx="389.90" cy="376.00" r="3.3" fill="#e9ad30" fill-opacity="1"/><circle cx="393.79" cy="364.53" r="3.3" fill="#e9ad30" fill-opacity="1"/><circle cx="397.67" cy="360.01" r="3.3" fill="#e9ad30" fill-opacity="1"/><circle cx="401.56" cy="363.89" r="3.3" fill="#e9ad30" fill-opacity="1"/><circle cx="405.44" cy="372.91" r="3.3" fill="#e9ad30" fill-opacity="1"/><circle cx="409.32" cy="384.19" r="3.3" fill="#e9ad30" fill-opacity="1"/><circle cx="413.21" cy="394.86" r="3.3" fill="#e9ad30" fill-opacity="1"/><circle cx="417.09" cy="402.05" r="3.3" fill="#e9ad30" fill-opacity="1"/><circle cx="420.98" cy="402.80" r="3.3" fill="#e9ad30" fill-opacity="1"/><circle cx="424.86" cy="395.45" r="3.3" fill="#e9ad30" fill-opacity="1"/><circle cx="428.75" cy="383.23" r="3.3" fill="#e9ad30" fill-opacity="1"/><circle cx="432.63" cy="370.01" r="3.3" fill="#e9ad30" fill-opacity="1"/></g>
<line x1="271.9" y1="300.8" x2="301.5" y2="300.8" stroke="#f6c466" stroke-width="1.35" stroke-opacity="1"/>
<rect x="283.25" y="297.75" width="6.1" height="6.1" fill="#f4bd55" fill-opacity="0.85"/>
<text x="304.09999999999997" y="305.0" font-family="'Liberation Serif', serif" font-size="12.1" word-spacing="1.3">-3 T</text>
<line x1="324.9" y1="300.8" x2="355.3" y2="300.8" stroke="#e9ad33" stroke-width="1.7" stroke-opacity="1"/>
<circle cx="340.60" cy="300.80" r="3.3" fill="#e9ad30" fill-opacity="1"/>
<text x="361.2" y="305.0" font-family="'Liberation Serif', serif" font-size="12.1" word-spacing="1.3">0 T</text>
<line x1="378.6" y1="300.8" x2="408.8" y2="300.8" stroke="#f1c154" stroke-width="1.25" stroke-opacity="1"/>
<path d="M393.10,296.70 L393.97,299.61 L397.00,299.53 L394.50,301.26 L395.51,304.12 L393.10,302.28 L390.69,304.12 L391.70,301.26 L389.20,299.53 L392.23,299.61Z" fill="#efbc48" fill-opacity="0.85"/>
<text x="414.2" y="305.0" font-family="'Liberation Serif', serif" font-size="12.1" word-spacing="1.3">3 T</text>
<g font-family="'Liberation Serif', serif" font-size="14">
<text x="269.50" y="438" text-anchor="middle">0</text>
<text x="310.62" y="438" text-anchor="middle">90</text>
<text x="351.75" y="438" text-anchor="middle">180</text>
<text x="392.88" y="438" text-anchor="middle">270</text>
<text x="434.00" y="438" text-anchor="middle">360</text>
<text x="265.0" y="294.7" text-anchor="end">8</text>
<text x="265.0" y="361.2" text-anchor="end">4</text>
<text x="265.0" y="427.7" text-anchor="end">0</text>
<text x="352.25" y="450.6" text-anchor="middle" font-size="14.1">HWP angle (degree)</text>
<text transform="translate(253,356.50) rotate(-90)" text-anchor="middle" font-size="14.3">Photocurrent (pA)</text>
</g>
<text x="510.5" y="278" font-family="'Liberation Serif', serif" font-size="22">(d) 40 K</text>
<rect x="513.2" y="289.5" width="161.5" height="129.60000000000002" fill="none" stroke="#000" stroke-width="1.5"/>
<line x1="513.20" y1="419.1" x2="513.20" y2="421.70000000000005" stroke="#000" stroke-width="1"/><line x1="533.39" y1="419.1" x2="533.39" y2="420.40000000000003" stroke="#000" stroke-width="1"/><line x1="553.58" y1="419.1" x2="553.58" y2="421.70000000000005" stroke="#000" stroke-width="1"/><line x1="573.76" y1="419.1" x2="573.76" y2="420.40000000000003" stroke="#000" stroke-width="1"/><line x1="593.95" y1="419.1" x2="593.95" y2="421.70000000000005" stroke="#000" stroke-width="1"/><line x1="614.14" y1="419.1" x2="614.14" y2="420.40000000000003" stroke="#000" stroke-width="1"/><line x1="634.33" y1="419.1" x2="634.33" y2="421.70000000000005" stroke="#000" stroke-width="1"/><line x1="654.51" y1="419.1" x2="654.51" y2="420.40000000000003" stroke="#000" stroke-width="1"/><line x1="674.70" y1="419.1" x2="674.70" y2="421.70000000000005" stroke="#000" stroke-width="1"/><line x1="513.2" y1="289.5" x2="510.6" y2="289.5" stroke="#000" stroke-width="1"/><line x1="513.2" y1="321.9" x2="511.90000000000003" y2="321.9" stroke="#000" stroke-width="1"/><line x1="513.2" y1="354.3" x2="510.6" y2="354.3" stroke="#000" stroke-width="1"/><line x1="513.2" y1="386.7" x2="511.90000000000003" y2="386.7" stroke="#000" stroke-width="1"/><line x1="513.2" y1="419.1" x2="510.6" y2="419.1" stroke="#000" stroke-width="1"/>
<g><path d="M513.20,351.76 L517.01,351.21 L520.83,354.00 L524.64,362.50 L528.45,374.09 L532.27,386.07 L536.08,395.74 L539.89,400.40 L543.71,397.40 L547.52,387.80 L551.33,375.44 L555.15,364.17 L558.96,357.86 L562.77,360.11 L566.58,369.96 L570.40,382.98 L574.21,394.64 L578.02,400.42 L581.84,397.62 L585.65,389.01 L589.46,377.59 L593.28,366.33 L597.09,358.22 L600.90,356.27 L604.72,362.50 L608.53,374.23 L612.34,387.83 L616.16,399.68 L619.97,406.15 L623.78,404.18 L627.60,395.39 L631.41,383.64 L635.22,372.82 L639.04,366.80 L642.85,368.57 L646.66,376.21 L650.48,386.58 L654.29,396.57 L658.10,403.05 L661.91,402.61 L665.73,393.33 L669.54,379.34 L673.35,365.41" fill="none" stroke="#cfe98a" stroke-width="1.35" stroke-opacity="1" stroke-linejoin="round"/><rect x="510.15" y="348.71" width="6.1" height="6.1" fill="#c8e67a" fill-opacity="0.9"/><rect x="513.96" y="348.16" width="6.1" height="6.1" fill="#c8e67a" fill-opacity="0.9"/><rect x="517.78" y="350.95" width="6.1" height="6.1" fill="#c8e67a" fill-opacity="0.9"/><rect x="521.59" y="359.45" width="6.1" height="6.1" fill="#c8e67a" fill-opacity="0.9"/><rect x="525.40" y="371.04" width="6.1" height="6.1" fill="#c8e67a" fill-opacity="0.9"/><rect x="529.22" y="383.02" width="6.1" height="6.1" fill="#c8e67a" fill-opacity="0.9"/><rect x="533.03" y="392.69" width="6.1" height="6.1" fill="#c8e67a" fill-opacity="0.9"/><rect x="536.84" y="397.35" width="6.1" height="6.1" fill="#c8e67a" fill-opacity="0.9"/><rect x="540.66" y="394.35" width="6.1" height="6.1" fill="#c8e67a" fill-opacity="0.9"/><rect x="544.47" y="384.75" width="6.1" height="6.1" fill="#c8e67a" fill-opacity="0.9"/><rect x="548.28" y="372.39" width="6.1" height="6.1" fill="#c8e67a" fill-opacity="0.9"/><rect x="552.10" y="361.12" width="6.1" height="6.1" fill="#c8e67a" fill-opacity="0.9"/><rect x="555.91" y="354.81" width="6.1" height="6.1" fill="#c8e67a" fill-opacity="0.9"/><rect x="559.72" y="357.06" width="6.1" height="6.1" fill="#c8e67a" fill-opacity="0.9"/><rect x="563.53" y="366.91" width="6.1" height="6.1" fill="#c8e67a" fill-opacity="0.9"/><rect x="567.35" y="379.93" width="6.1" height="6.1" fill="#c8e67a" fill-opacity="0.9"/><rect x="571.16" y="391.59" width="6.1" height="6.1" fill="#c8e67a" fill-opacity="0.9"/><rect x="574.97" y="397.37" width="6.1" height="6.1" fill="#c8e67a" fill-opacity="0.9"/><rect x="578.79" y="394.57" width="6.1" height="6.1" fill="#c8e67a" fill-opacity="0.9"/><rect x="582.60" y="385.96" width="6.1" height="6.1" fill="#c8e67a" fill-opacity="0.9"/><rect x="586.41" y="374.54" width="6.1" height="6.1" fill="#c8e67a" fill-opacity="0.9"/><rect x="590.23" y="363.28" width="6.1" height="6.1" fill="#c8e67a" fill-opacity="0.9"/><rect x="594.04" y="355.17" width="6.1" height="6.1" fill="#c8e67a" fill-opacity="0.9"/><rect x="597.85" y="353.22" width="6.1" height="6.1" fill="#c8e67a" fill-opacity="0.9"/><rect x="601.67" y="359.45" width="6.1" height="6.1" fill="#c8e67a" fill-opacity="0.9"/><rect x="605.48" y="371.18" width="6.1" height="6.1" fill="#c8e67a" fill-opacity="0.9"/><rect x="609.29" y="384.78" width="6.1" height="6.1" fill="#c8e67a" fill-opacity="0.9"/><rect x="613.11" y="396.63" width="6.1" height="6.1" fill="#c8e67a" fill-opacity="0.9"/><rect x="616.92" y="403.10" width="6.1" height="6.1" fill="#c8e67a" fill-opacity="0.9"/><rect x="620.73" y="401.13" width="6.1" height="6.1" fill="#c8e67a" fill-opacity="0.9"/><rect x="624.55" y="392.34" width="6.1" height="6.1" fill="#c8e67a" fill-opacity="0.9"/><rect x="628.36" y="380.59" width="6.1" height="6.1" fill="#c8e67a" fill-opacity="0.9"/><rect x="632.17" y="369.77" width="6.1" height="6.1" fill="#c8e67a" fill-opacity="0.9"/><rect x="635.99" y="363.75" width="6.1" height="6.1" fill="#c8e67a" fill-opacity="0.9"/><rect x="639.80" y="365.52" width="6.1" height="6.1" fill="#c8e67a" fill-opacity="0.9"/><rect x="643.61" y="373.16" width="6.1" height="6.1" fill="#c8e67a" fill-opacity="0.9"/><rect x="647.43" y="383.53" width="6.1" height="6.1" fill="#c8e67a" fill-opacity="0.9"/><rect x="651.24" y="393.52" width="6.1" height="6.1" fill="#c8e67a" fill-opacity="0.9"/><rect x="655.05" y="400.00" width="6.1" height="6.1" fill="#c8e67a" fill-opacity="0.9"/><rect x="658.86" y="399.56" width="6.1" height="6.1" fill="#c8e67a" fill-opacity="0.9"/><rect x="662.68" y="390.28" width="6.1" height="6.1" fill="#c8e67a" fill-opacity="0.9"/><rect x="666.49" y="376.29" width="6.1" height="6.1" fill="#c8e67a" fill-opacity="0.9"/><rect x="670.30" y="362.36" width="6.1" height="6.1" fill="#c8e67a" fill-opacity="0.9"/><path d="M513.20,346.91 L517.01,345.65 L520.83,348.51 L524.64,353.91 L528.45,360.39 L532.27,366.52 L536.08,370.83 L539.89,371.77 L543.71,366.47 L547.52,356.78 L551.33,346.19 L555.15,338.19 L558.96,336.21 L562.77,340.60 L566.58,348.76 L570.40,358.19 L574.21,366.37 L578.02,370.78 L581.84,370.18 L585.65,367.11 L589.46,362.84 L593.28,358.57 L597.09,355.46 L600.90,354.74 L604.72,357.82 L608.53,363.45 L612.34,369.60 L616.16,374.24 L619.97,375.32 L623.78,371.67 L627.60,364.90 L631.41,357.09 L635.22,350.32 L639.04,346.68 L642.85,347.95 L646.66,353.32 L650.48,360.70 L654.29,367.96 L658.10,372.96 L661.91,373.65 L665.73,369.79 L669.54,363.29 L673.35,356.15" fill="none" stroke="#bfe263" stroke-width="1.25" stroke-opacity="1" stroke-linejoin="round"/><path d="M513.20,342.81 L514.07,345.72 L517.10,345.65 L514.60,347.37 L515.61,350.23 L513.20,348.39 L510.79,350.23 L511.80,347.37 L509.30,345.65 L512.33,345.72Z" fill="#badf55" fill-opacity="0.9"/><path d="M517.01,341.55 L517.88,344.46 L520.91,344.38 L518.42,346.11 L519.42,348.97 L517.01,347.13 L514.60,348.97 L515.61,346.11 L513.11,344.38 L516.15,344.46Z" fill="#badf55" fill-opacity="0.9"/><path d="M520.83,344.41 L521.69,347.32 L524.73,347.24 L522.23,348.97 L523.24,351.83 L520.83,349.99 L518.42,351.83 L519.42,348.97 L516.93,347.24 L519.96,347.32Z" fill="#badf55" fill-opacity="0.9"/><path d="M524.64,349.81 L525.51,352.71 L528.54,352.64 L526.04,354.36 L527.05,357.23 L524.64,355.38 L522.23,357.23 L523.24,354.36 L520.74,352.64 L523.77,352.71Z" fill="#badf55" fill-opacity="0.9"/><path d="M528.45,356.29 L529.32,359.20 L532.35,359.13 L529.86,360.85 L530.86,363.71 L528.45,361.87 L526.04,363.71 L527.05,360.85 L524.55,359.13 L527.59,359.20Z" fill="#badf55" fill-opacity="0.9"/><path d="M532.27,362.42 L533.13,365.32 L536.17,365.25 L533.67,366.97 L534.68,369.83 L532.27,367.99 L529.86,369.83 L530.86,366.97 L528.37,365.25 L531.40,365.32Z" fill="#badf55" fill-opacity="0.9"/><path d="M536.08,366.73 L536.95,369.63 L539.98,369.56 L537.48,371.28 L538.49,374.14 L536.08,372.30 L533.67,374.14 L534.68,371.28 L532.18,369.56 L535.21,369.63Z" fill="#badf55" fill-opacity="0.9"/><path d="M539.89,367.67 L540.76,370.58 L543.79,370.50 L541.30,372.23 L542.30,375.09 L539.89,373.25 L537.48,375.09 L538.49,372.23 L535.99,370.50 L539.02,370.58Z" fill="#badf55" fill-opacity="0.9"/><path d="M543.71,362.37 L544.57,365.28 L547.60,365.20 L545.11,366.93 L546.12,369.79 L543.71,367.95 L541.30,369.79 L542.30,366.93 L539.81,365.20 L542.84,365.28Z" fill="#badf55" fill-opacity="0.9"/><path d="M547.52,352.68 L548.39,355.58 L551.42,355.51 L548.92,357.24 L549.93,360.10 L547.52,358.25 L545.11,360.10 L546.11,357.24 L543.62,355.51 L546.65,355.58Z" fill="#badf55" fill-opacity="0.9"/><path d="M551.33,342.09 L552.20,345.00 L555.23,344.92 L552.74,346.65 L553.74,349.51 L551.33,347.67 L548.92,349.51 L549.93,346.65 L547.43,344.92 L550.46,345.00Z" fill="#badf55" fill-opacity="0.9"/><path d="M555.15,334.09 L556.01,337.00 L559.04,336.93 L556.55,338.65 L557.56,341.51 L555.15,339.67 L552.74,341.51 L553.74,338.65 L551.25,336.93 L554.28,337.00Z" fill="#badf55" fill-opacity="0.9"/><path d="M558.96,332.11 L559.83,335.02 L562.86,334.95 L560.36,336.67 L561.37,339.53 L558.96,337.69 L556.55,339.53 L557.55,336.67 L555.06,334.95 L558.09,335.02Z" fill="#badf55" fill-opacity="0.9"/><path d="M562.77,336.50 L563.64,339.41 L566.67,339.33 L564.18,341.06 L565.18,343.92 L562.77,342.08 L560.36,343.92 L561.37,341.06 L558.87,339.33 L561.90,339.41Z" fill="#badf55" fill-opacity="0.9"/><path d="M566.58,344.66 L567.45,347.57 L570.48,347.50 L567.99,349.22 L568.99,352.08 L566.58,350.24 L564.17,352.08 L565.18,349.22 L562.69,347.50 L565.72,347.57Z" fill="#badf55" fill-opacity="0.9"/><path d="M570.40,354.09 L571.27,357.00 L574.30,356.93 L571.80,358.65 L572.81,361.51 L570.40,359.67 L567.99,361.51 L568.99,358.65 L566.50,356.93 L569.53,357.00Z" fill="#badf55" fill-opacity="0.9"/><path d="M574.21,362.27 L575.08,365.18 L578.11,365.10 L575.61,366.83 L576.62,369.69 L574.21,367.85 L571.80,369.69 L572.81,366.83 L570.31,365.10 L573.34,365.18Z" fill="#badf55" fill-opacity="0.9"/><path d="M578.02,366.68 L578.89,369.59 L581.92,369.51 L579.43,371.24 L580.43,374.10 L578.02,372.26 L575.61,374.10 L576.62,371.24 L574.12,369.51 L577.16,369.59Z" fill="#badf55" fill-opacity="0.9"/><path d="M581.84,366.08 L582.71,368.99 L585.74,368.92 L583.24,370.64 L584.25,373.50 L581.84,371.66 L579.43,373.50 L580.43,370.64 L577.94,368.92 L580.97,368.99Z" fill="#badf55" fill-opacity="0.9"/><path d="M585.65,363.01 L586.52,365.91 L589.55,365.84 L587.05,367.56 L588.06,370.42 L585.65,368.58 L583.24,370.42 L584.25,367.56 L581.75,365.84 L584.78,365.91Z" fill="#badf55" fill-opacity="0.9"/><path d="M589.46,358.74 L590.33,361.65 L593.36,361.58 L590.87,363.30 L591.87,366.16 L589.46,364.32 L587.05,366.16 L588.06,363.30 L585.56,361.58 L588.60,361.65Z" fill="#badf55" fill-opacity="0.9"/><path d="M593.28,354.47 L594.14,357.37 L597.18,357.30 L594.68,359.02 L595.69,361.88 L593.28,360.04 L590.87,361.88 L591.87,359.02 L589.38,357.30 L592.41,357.37Z" fill="#badf55" fill-opacity="0.9"/><path d="M597.09,351.36 L597.96,354.26 L600.99,354.19 L598.49,355.91 L599.50,358.77 L597.09,356.93 L594.68,358.77 L595.69,355.91 L593.19,354.19 L596.22,354.26Z" fill="#badf55" fill-opacity="0.9"/><path d="M600.90,350.64 L601.77,353.54 L604.80,353.47 L602.31,355.19 L603.31,358.05 L600.90,356.21 L598.49,358.05 L599.50,355.19 L597.00,353.47 L600.04,353.54Z" fill="#badf55" fill-opacity="0.9"/><path d="M604.72,353.72 L605.58,356.63 L608.62,356.56 L606.12,358.28 L607.13,361.14 L604.72,359.30 L602.31,361.14 L603.31,358.28 L600.82,356.56 L603.85,356.63Z" fill="#badf55" fill-opacity="0.9"/><path d="M608.53,359.35 L609.40,362.26 L612.43,362.19 L609.93,363.91 L610.94,366.77 L608.53,364.93 L606.12,366.77 L607.13,363.91 L604.63,362.19 L607.66,362.26Z" fill="#badf55" fill-opacity="0.9"/><path d="M612.34,365.50 L613.21,368.41 L616.24,368.33 L613.75,370.06 L614.75,372.92 L612.34,371.08 L609.93,372.92 L610.94,370.06 L608.44,368.33 L611.48,368.41Z" fill="#badf55" fill-opacity="0.9"/><path d="M616.16,370.14 L617.02,373.04 L620.06,372.97 L617.56,374.69 L618.57,377.55 L616.16,375.71 L613.75,377.55 L614.75,374.69 L612.26,372.97 L615.29,373.04Z" fill="#badf55" fill-opacity="0.9"/><path d="M619.97,371.22 L620.84,374.13 L623.87,374.05 L621.37,375.78 L622.38,378.64 L619.97,376.80 L617.56,378.64 L618.57,375.78 L616.07,374.05 L619.10,374.13Z" fill="#badf55" fill-opacity="0.9"/><path d="M623.78,367.57 L624.65,370.48 L627.68,370.41 L625.19,372.13 L626.19,374.99 L623.78,373.15 L621.37,374.99 L622.38,372.13 L619.88,370.41 L622.92,370.48Z" fill="#badf55" fill-opacity="0.9"/><path d="M627.60,360.80 L628.46,363.71 L631.50,363.63 L629.00,365.36 L630.01,368.22 L627.60,366.38 L625.19,368.22 L626.19,365.36 L623.70,363.63 L626.73,363.71Z" fill="#badf55" fill-opacity="0.9"/><path d="M631.41,352.99 L632.28,355.90 L635.31,355.82 L632.81,357.55 L633.82,360.41 L631.41,358.57 L629.00,360.41 L630.01,357.55 L627.51,355.82 L630.54,355.90Z" fill="#badf55" fill-opacity="0.9"/><path d="M635.22,346.22 L636.09,349.13 L639.12,349.05 L636.63,350.78 L637.63,353.64 L635.22,351.80 L632.81,353.64 L633.82,350.78 L631.32,349.05 L634.35,349.13Z" fill="#badf55" fill-opacity="0.9"/><path d="M639.04,342.58 L639.90,345.48 L642.93,345.41 L640.44,347.13 L641.45,349.99 L639.04,348.15 L636.63,349.99 L637.63,347.13 L635.14,345.41 L638.17,345.48Z" fill="#badf55" fill-opacity="0.9"/><path d="M642.85,343.85 L643.72,346.75 L646.75,346.68 L644.25,348.40 L645.26,351.26 L642.85,349.42 L640.44,351.26 L641.44,348.40 L638.95,346.68 L641.98,346.75Z" fill="#badf55" fill-opacity="0.9"/><path d="M646.66,349.22 L647.53,352.13 L650.56,352.06 L648.07,353.78 L649.07,356.64 L646.66,354.80 L644.25,356.64 L645.26,353.78 L642.76,352.06 L645.79,352.13Z" fill="#badf55" fill-opacity="0.9"/><path d="M650.48,356.60 L651.34,359.51 L654.37,359.44 L651.88,361.16 L652.88,364.02 L650.48,362.18 L648.07,364.02 L649.07,361.16 L646.58,359.44 L649.61,359.51Z" fill="#badf55" fill-opacity="0.9"/><path d="M654.29,363.86 L655.16,366.76 L658.19,366.69 L655.69,368.41 L656.70,371.27 L654.29,369.43 L651.88,371.27 L652.88,368.41 L650.39,366.69 L653.42,366.76Z" fill="#badf55" fill-opacity="0.9"/><path d="M658.10,368.86 L658.97,371.76 L662.00,371.69 L659.51,373.41 L660.51,376.28 L658.10,374.43 L655.69,376.28 L656.70,373.41 L654.20,371.69 L657.23,371.76Z" fill="#badf55" fill-opacity="0.9"/><path d="M661.91,369.55 L662.78,372.45 L665.81,372.38 L663.32,374.10 L664.32,376.96 L661.91,375.12 L659.50,376.96 L660.51,374.10 L658.02,372.38 L661.05,372.45Z" fill="#badf55" fill-opacity="0.9"/><path d="M665.73,365.69 L666.60,368.60 L669.63,368.52 L667.13,370.25 L668.14,373.11 L665.73,371.27 L663.32,373.11 L664.32,370.25 L661.83,368.52 L664.86,368.60Z" fill="#badf55" fill-opacity="0.9"/><path d="M669.54,359.19 L670.41,362.10 L673.44,362.02 L670.94,363.75 L671.95,366.61 L669.54,364.77 L667.13,366.61 L668.14,363.75 L665.64,362.02 L668.67,362.10Z" fill="#badf55" fill-opacity="0.9"/><path d="M673.35,352.05 L674.22,354.96 L677.25,354.89 L674.76,356.61 L675.76,359.47 L673.35,357.63 L670.94,359.47 L671.95,356.61 L669.45,354.89 L672.49,354.96Z" fill="#badf55" fill-opacity="0.9"/><path d="M513.20,329.46 L517.01,328.84 L520.83,329.11 L524.64,335.35 L528.45,347.62 L532.27,362.41 L536.08,372.00 L539.89,375.95 L543.71,370.94 L547.52,360.07 L551.33,346.67 L555.15,334.09 L558.96,325.67 L562.77,324.82 L566.58,333.15 L570.40,346.99 L574.21,361.98 L578.02,373.75 L581.84,377.96 L585.65,373.16 L589.46,362.89 L593.28,350.87 L597.09,340.84 L600.90,336.50 L604.72,340.90 L608.53,351.95 L612.34,365.61 L616.16,377.84 L619.97,384.63 L623.78,382.41 L627.60,372.44 L631.41,358.65 L635.22,345.03 L639.04,335.55 L642.85,334.12 L646.66,341.29 L650.48,353.32 L654.29,366.18 L658.10,375.81 L661.91,378.17 L665.73,371.07 L669.54,358.41 L673.35,345.15" fill="none" stroke="#a5d22c" stroke-width="1.7" stroke-opacity="1" stroke-linejoin="round"/><circle cx="513.20" cy="329.46" r="3.3" fill="#a2d129" fill-opacity="1"/><circle cx="517.01" cy="328.84" r="3.3" fill="#a2d129" fill-opacity="1"/><circle cx="520.83" cy="329.11" r="3.3" fill="#a2d129" fill-opacity="1"/><circle cx="524.64" cy="335.35" r="3.3" fill="#a2d129" fill-opacity="1"/><circle cx="528.45" cy="347.62" r="3.3" fill="#a2d129" fill-opacity="1"/><circle cx="532.27" cy="362.41" r="3.3" fill="#a2d129" fill-opacity="1"/><circle cx="536.08" cy="372.00" r="3.3" fill="#a2d129" fill-opacity="1"/><circle cx="539.89" cy="375.95" r="3.3" fill="#a2d129" fill-opacity="1"/><circle cx="543.71" cy="370.94" r="3.3" fill="#a2d129" fill-opacity="1"/><circle cx="547.52" cy="360.07" r="3.3" fill="#a2d129" fill-opacity="1"/><circle cx="551.33" cy="346.67" r="3.3" fill="#a2d129" fill-opacity="1"/><circle cx="555.15" cy="334.09" r="3.3" fill="#a2d129" fill-opacity="1"/><circle cx="558.96" cy="325.67" r="3.3" fill="#a2d129" fill-opacity="1"/><circle cx="562.77" cy="324.82" r="3.3" fill="#a2d129" fill-opacity="1"/><circle cx="566.58" cy="333.15" r="3.3" fill="#a2d129" fill-opacity="1"/><circle cx="570.40" cy="346.99" r="3.3" fill="#a2d129" fill-opacity="1"/><circle cx="574.21" cy="361.98" r="3.3" fill="#a2d129" fill-opacity="1"/><circle cx="578.02" cy="373.75" r="3.3" fill="#a2d129" fill-opacity="1"/><circle cx="581.84" cy="377.96" r="3.3" fill="#a2d129" fill-opacity="1"/><circle cx="585.65" cy="373.16" r="3.3" fill="#a2d129" fill-opacity="1"/><circle cx="589.46" cy="362.89" r="3.3" fill="#a2d129" fill-opacity="1"/><circle cx="593.28" cy="350.87" r="3.3" fill="#a2d129" fill-opacity="1"/><circle cx="597.09" cy="340.84" r="3.3" fill="#a2d129" fill-opacity="1"/><circle cx="600.90" cy="336.50" r="3.3" fill="#a2d129" fill-opacity="1"/><circle cx="604.72" cy="340.90" r="3.3" fill="#a2d129" fill-opacity="1"/><circle cx="608.53" cy="351.95" r="3.3" fill="#a2d129" fill-opacity="1"/><circle cx="612.34" cy="365.61" r="3.3" fill="#a2d129" fill-opacity="1"/><circle cx="616.16" cy="377.84" r="3.3" fill="#a2d129" fill-opacity="1"/><circle cx="619.97" cy="384.63" r="3.3" fill="#a2d129" fill-opacity="1"/><circle cx="623.78" cy="382.41" r="3.3" fill="#a2d129" fill-opacity="1"/><circle cx="627.60" cy="372.44" r="3.3" fill="#a2d129" fill-opacity="1"/><circle cx="631.41" cy="358.65" r="3.3" fill="#a2d129" fill-opacity="1"/><circle cx="635.22" cy="345.03" r="3.3" fill="#a2d129" fill-opacity="1"/><circle cx="639.04" cy="335.55" r="3.3" fill="#a2d129" fill-opacity="1"/><circle cx="642.85" cy="334.12" r="3.3" fill="#a2d129" fill-opacity="1"/><circle cx="646.66" cy="341.29" r="3.3" fill="#a2d129" fill-opacity="1"/><circle cx="650.48" cy="353.32" r="3.3" fill="#a2d129" fill-opacity="1"/><circle cx="654.29" cy="366.18" r="3.3" fill="#a2d129" fill-opacity="1"/><circle cx="658.10" cy="375.81" r="3.3" fill="#a2d129" fill-opacity="1"/><circle cx="661.91" cy="378.17" r="3.3" fill="#a2d129" fill-opacity="1"/><circle cx="665.73" cy="371.07" r="3.3" fill="#a2d129" fill-opacity="1"/><circle cx="669.54" cy="358.41" r="3.3" fill="#a2d129" fill-opacity="1"/><circle cx="673.35" cy="345.15" r="3.3" fill="#a2d129" fill-opacity="1"/></g>
<line x1="515.8" y1="299.9" x2="544.9" y2="299.9" stroke="#cfe98a" stroke-width="1.35" stroke-opacity="1"/>
<rect x="526.95" y="296.85" width="6.1" height="6.1" fill="#c8e67a" fill-opacity="0.9"/>
<text x="547.4" y="304.09999999999997" font-family="'Liberation Serif', serif" font-size="12.1" word-spacing="1.3">-3 T</text>
<line x1="568" y1="299.9" x2="597.7" y2="299.9" stroke="#a5d22c" stroke-width="1.7" stroke-opacity="1"/>
<circle cx="583.20" cy="299.90" r="3.3" fill="#a2d129" fill-opacity="1"/>
<text x="603.4" y="304.09999999999997" font-family="'Liberation Serif', serif" font-size="12.1" word-spacing="1.3">0 T</text>
<line x1="619.4" y1="299.9" x2="649.7" y2="299.9" stroke="#bfe263" stroke-width="1.25" stroke-opacity="1"/>
<path d="M634.80,295.80 L635.67,298.71 L638.70,298.63 L636.20,300.36 L637.21,303.22 L634.80,301.38 L632.39,303.22 L633.40,300.36 L630.90,298.63 L633.93,298.71Z" fill="#badf55" fill-opacity="0.9"/>
<text x="655.0" y="304.09999999999997" font-family="'Liberation Serif', serif" font-size="12.1" word-spacing="1.3">3 T</text>
<g font-family="'Liberation Serif', serif" font-size="14">
<text x="513.20" y="434.1" text-anchor="middle">0</text>
<text x="553.58" y="434.1" text-anchor="middle">90</text>
<text x="593.95" y="434.1" text-anchor="middle">180</text>
<text x="634.33" y="434.1" text-anchor="middle">270</text>
<text x="674.70" y="434.1" text-anchor="middle">360</text>
<text x="508.70000000000005" y="294.2" text-anchor="end">4</text>
<text x="508.70000000000005" y="359.0" text-anchor="end">2</text>
<text x="508.70000000000005" y="423.8" text-anchor="end">0</text>
<text x="594.45" y="444.5" text-anchor="middle" font-size="14.1">HWP angle (degree)</text>
<text transform="translate(499,354.30) rotate(-90)" text-anchor="middle" font-size="14.3">Photocurrent (pA)</text>
</g>
<text x="37.5" y="499.7" font-family="'Liberation Serif', serif" font-size="22">(g) 10 K</text>
<rect x="37.3" y="512.4" width="163.5" height="132.20000000000005" fill="none" stroke="#000" stroke-width="1.5"/>
<line x1="37.30" y1="644.6" x2="37.30" y2="647.2" stroke="#000" stroke-width="1"/><line x1="57.74" y1="644.6" x2="57.74" y2="645.9" stroke="#000" stroke-width="1"/><line x1="78.17" y1="644.6" x2="78.17" y2="647.2" stroke="#000" stroke-width="1"/><line x1="98.61" y1="644.6" x2="98.61" y2="645.9" stroke="#000" stroke-width="1"/><line x1="119.05" y1="644.6" x2="119.05" y2="647.2" stroke="#000" stroke-width="1"/><line x1="139.49" y1="644.6" x2="139.49" y2="645.9" stroke="#000" stroke-width="1"/><line x1="159.93" y1="644.6" x2="159.93" y2="647.2" stroke="#000" stroke-width="1"/><line x1="180.36" y1="644.6" x2="180.36" y2="645.9" stroke="#000" stroke-width="1"/><line x1="200.80" y1="644.6" x2="200.80" y2="647.2" stroke="#000" stroke-width="1"/><line x1="37.3" y1="528.3" x2="36.0" y2="528.3" stroke="#000" stroke-width="1"/><line x1="37.3" y1="543.7" x2="34.699999999999996" y2="543.7" stroke="#000" stroke-width="1"/><line x1="37.3" y1="559.1" x2="36.0" y2="559.1" stroke="#000" stroke-width="1"/><line x1="37.3" y1="574.6" x2="36.0" y2="574.6" stroke="#000" stroke-width="1"/><line x1="37.3" y1="590" x2="34.699999999999996" y2="590" stroke="#000" stroke-width="1"/><line x1="37.3" y1="605.5" x2="36.0" y2="605.5" stroke="#000" stroke-width="1"/><line x1="37.3" y1="620.9" x2="36.0" y2="620.9" stroke="#000" stroke-width="1"/><line x1="37.3" y1="636.4" x2="34.699999999999996" y2="636.4" stroke="#000" stroke-width="1"/>
<g><path d="M37.30,565.78 L41.16,560.03 L45.02,554.94 L48.88,552.36 L52.74,554.33 L56.60,560.66 L60.46,568.97 L64.32,576.83 L68.18,581.83 L72.04,581.71 L75.90,576.73 L79.76,568.98 L83.62,560.54 L87.49,553.54 L91.35,550.08 L95.21,552.27 L99.07,559.41 L102.93,568.59 L106.79,576.87 L110.65,581.32 L114.51,579.84 L118.37,574.03 L122.23,566.12 L126.09,558.31 L129.95,552.80 L133.81,551.79 L137.67,555.92 L141.53,563.31 L145.39,571.81 L149.25,579.30 L153.11,583.63 L156.97,582.52 L160.83,575.74 L164.69,566.41 L168.55,557.79 L172.41,553.16 L176.27,555.61 L180.14,564.13 L184.00,574.69 L187.86,583.28 L191.72,585.88 L195.58,581.87 L199.44,574.10" fill="none" stroke="#8a48c2" stroke-width="1.35" stroke-opacity="1" stroke-linejoin="round"/><rect x="34.25" y="562.73" width="6.1" height="6.1" fill="#8038b8" fill-opacity="0.85"/><rect x="38.11" y="556.98" width="6.1" height="6.1" fill="#8038b8" fill-opacity="0.85"/><rect x="41.97" y="551.89" width="6.1" height="6.1" fill="#8038b8" fill-opacity="0.85"/><rect x="45.83" y="549.31" width="6.1" height="6.1" fill="#8038b8" fill-opacity="0.85"/><rect x="49.69" y="551.28" width="6.1" height="6.1" fill="#8038b8" fill-opacity="0.85"/><rect x="53.55" y="557.61" width="6.1" height="6.1" fill="#8038b8" fill-opacity="0.85"/><rect x="57.41" y="565.92" width="6.1" height="6.1" fill="#8038b8" fill-opacity="0.85"/><rect x="61.27" y="573.78" width="6.1" height="6.1" fill="#8038b8" fill-opacity="0.85"/><rect x="65.13" y="578.78" width="6.1" height="6.1" fill="#8038b8" fill-opacity="0.85"/><rect x="68.99" y="578.66" width="6.1" height="6.1" fill="#8038b8" fill-opacity="0.85"/><rect x="72.85" y="573.68" width="6.1" height="6.1" fill="#8038b8" fill-opacity="0.85"/><rect x="76.71" y="565.93" width="6.1" height="6.1" fill="#8038b8" fill-opacity="0.85"/><rect x="80.58" y="557.49" width="6.1" height="6.1" fill="#8038b8" fill-opacity="0.85"/><rect x="84.44" y="550.49" width="6.1" height="6.1" fill="#8038b8" fill-opacity="0.85"/><rect x="88.30" y="547.03" width="6.1" height="6.1" fill="#8038b8" fill-opacity="0.85"/><rect x="92.16" y="549.22" width="6.1" height="6.1" fill="#8038b8" fill-opacity="0.85"/><rect x="96.02" y="556.36" width="6.1" height="6.1" fill="#8038b8" fill-opacity="0.85"/><rect x="99.88" y="565.54" width="6.1" height="6.1" fill="#8038b8" fill-opacity="0.85"/><rect x="103.74" y="573.82" width="6.1" height="6.1" fill="#8038b8" fill-opacity="0.85"/><rect x="107.60" y="578.27" width="6.1" height="6.1" fill="#8038b8" fill-opacity="0.85"/><rect x="111.46" y="576.79" width="6.1" height="6.1" fill="#8038b8" fill-opacity="0.85"/><rect x="115.32" y="570.98" width="6.1" height="6.1" fill="#8038b8" fill-opacity="0.85"/><rect x="119.18" y="563.07" width="6.1" height="6.1" fill="#8038b8" fill-opacity="0.85"/><rect x="123.04" y="555.26" width="6.1" height="6.1" fill="#8038b8" fill-opacity="0.85"/><rect x="126.90" y="549.75" width="6.1" height="6.1" fill="#8038b8" fill-opacity="0.85"/><rect x="130.76" y="548.74" width="6.1" height="6.1" fill="#8038b8" fill-opacity="0.85"/><rect x="134.62" y="552.87" width="6.1" height="6.1" fill="#8038b8" fill-opacity="0.85"/><rect x="138.48" y="560.26" width="6.1" height="6.1" fill="#8038b8" fill-opacity="0.85"/><rect x="142.34" y="568.76" width="6.1" height="6.1" fill="#8038b8" fill-opacity="0.85"/><rect x="146.20" y="576.25" width="6.1" height="6.1" fill="#8038b8" fill-opacity="0.85"/><rect x="150.06" y="580.58" width="6.1" height="6.1" fill="#8038b8" fill-opacity="0.85"/><rect x="153.92" y="579.47" width="6.1" height="6.1" fill="#8038b8" fill-opacity="0.85"/><rect x="157.78" y="572.69" width="6.1" height="6.1" fill="#8038b8" fill-opacity="0.85"/><rect x="161.64" y="563.36" width="6.1" height="6.1" fill="#8038b8" fill-opacity="0.85"/><rect x="165.50" y="554.74" width="6.1" height="6.1" fill="#8038b8" fill-opacity="0.85"/><rect x="169.36" y="550.11" width="6.1" height="6.1" fill="#8038b8" fill-opacity="0.85"/><rect x="173.22" y="552.56" width="6.1" height="6.1" fill="#8038b8" fill-opacity="0.85"/><rect x="177.09" y="561.08" width="6.1" height="6.1" fill="#8038b8" fill-opacity="0.85"/><rect x="180.95" y="571.64" width="6.1" height="6.1" fill="#8038b8" fill-opacity="0.85"/><rect x="184.81" y="580.23" width="6.1" height="6.1" fill="#8038b8" fill-opacity="0.85"/><rect x="188.67" y="582.83" width="6.1" height="6.1" fill="#8038b8" fill-opacity="0.85"/><rect x="192.53" y="578.82" width="6.1" height="6.1" fill="#8038b8" fill-opacity="0.85"/><rect x="196.39" y="571.05" width="6.1" height="6.1" fill="#8038b8" fill-opacity="0.85"/><path d="M37.30,609.04 L41.16,612.20 L45.02,613.50 L48.88,608.92 L52.74,597.82 L56.60,584.00 L60.46,571.27 L64.32,563.42 L68.18,563.80 L72.04,571.15 L75.90,582.22 L79.76,593.78 L83.62,602.62 L87.49,605.52 L91.35,600.08 L95.21,588.87 L99.07,575.83 L102.93,564.90 L106.79,560.02 L110.65,564.52 L114.51,576.24 L118.37,590.57 L122.23,602.91 L126.09,608.66 L129.95,604.93 L133.81,594.46 L137.67,580.80 L141.53,567.47 L145.39,558.02 L149.25,556.00 L153.11,563.17 L156.97,576.10 L160.83,590.54 L164.69,602.26 L168.55,607.00 L172.41,602.68 L176.27,592.45 L180.14,579.96 L184.00,568.88 L187.86,562.88 L191.72,565.17 L195.58,574.50 L199.44,587.11" fill="none" stroke="#8f4fc4" stroke-width="1.25" stroke-opacity="1" stroke-linejoin="round"/><path d="M37.30,604.94 L38.17,607.84 L41.20,607.77 L38.70,609.49 L39.71,612.35 L37.30,610.51 L34.89,612.35 L35.90,609.49 L33.40,607.77 L36.43,607.84Z" fill="#8747bf" fill-opacity="1"/><path d="M41.16,608.10 L42.03,611.00 L45.06,610.93 L42.56,612.65 L43.57,615.52 L41.16,613.67 L38.75,615.52 L39.76,612.65 L37.26,610.93 L40.29,611.00Z" fill="#8747bf" fill-opacity="1"/><path d="M45.02,609.40 L45.89,612.31 L48.92,612.23 L46.42,613.96 L47.43,616.82 L45.02,614.98 L42.61,616.82 L43.62,613.96 L41.12,612.23 L44.15,612.31Z" fill="#8747bf" fill-opacity="1"/><path d="M48.88,604.82 L49.75,607.72 L52.78,607.65 L50.29,609.37 L51.29,612.23 L48.88,610.39 L46.47,612.23 L47.48,609.37 L44.98,607.65 L48.01,607.72Z" fill="#8747bf" fill-opacity="1"/><path d="M52.74,593.72 L53.61,596.62 L56.64,596.55 L54.15,598.27 L55.15,601.13 L52.74,599.29 L50.33,601.13 L51.34,598.27 L48.84,596.55 L51.87,596.62Z" fill="#8747bf" fill-opacity="1"/><path d="M56.60,579.90 L57.47,582.81 L60.50,582.73 L58.01,584.46 L59.01,587.32 L56.60,585.48 L54.19,587.32 L55.20,584.46 L52.70,582.73 L55.73,582.81Z" fill="#8747bf" fill-opacity="1"/><path d="M60.46,567.17 L61.33,570.07 L64.36,570.00 L61.87,571.72 L62.87,574.59 L60.46,572.74 L58.05,574.59 L59.06,571.72 L56.56,570.00 L59.59,570.07Z" fill="#8747bf" fill-opacity="1"/><path d="M64.32,559.32 L65.19,562.23 L68.22,562.16 L65.73,563.88 L66.73,566.74 L64.32,564.90 L61.91,566.74 L62.92,563.88 L60.42,562.16 L63.46,562.23Z" fill="#8747bf" fill-opacity="1"/><path d="M68.18,559.70 L69.05,562.61 L72.08,562.53 L69.59,564.26 L70.59,567.12 L68.18,565.28 L65.77,567.12 L66.78,564.26 L64.28,562.53 L67.32,562.61Z" fill="#8747bf" fill-opacity="1"/><path d="M72.04,567.05 L72.91,569.96 L75.94,569.89 L73.45,571.61 L74.45,574.47 L72.04,572.63 L69.63,574.47 L70.64,571.61 L68.14,569.89 L71.18,569.96Z" fill="#8747bf" fill-opacity="1"/><path d="M75.90,578.12 L76.77,581.02 L79.80,580.95 L77.31,582.67 L78.31,585.53 L75.90,583.69 L73.49,585.53 L74.50,582.67 L72.00,580.95 L75.04,581.02Z" fill="#8747bf" fill-opacity="1"/><path d="M79.76,589.68 L80.63,592.58 L83.66,592.51 L81.17,594.23 L82.17,597.09 L79.76,595.25 L77.35,597.09 L78.36,594.23 L75.87,592.51 L78.90,592.58Z" fill="#8747bf" fill-opacity="1"/><path d="M83.62,598.52 L84.49,601.42 L87.52,601.35 L85.03,603.07 L86.03,605.94 L83.62,604.09 L81.22,605.94 L82.22,603.07 L79.73,601.35 L82.76,601.42Z" fill="#8747bf" fill-opacity="1"/><path d="M87.49,601.42 L88.35,604.33 L91.38,604.25 L88.89,605.98 L89.90,608.84 L87.49,607.00 L85.08,608.84 L86.08,605.98 L83.59,604.25 L86.62,604.33Z" fill="#8747bf" fill-opacity="1"/><path d="M91.35,595.98 L92.21,598.88 L95.25,598.81 L92.75,600.53 L93.76,603.39 L91.35,601.55 L88.94,603.39 L89.94,600.53 L87.45,598.81 L90.48,598.88Z" fill="#8747bf" fill-opacity="1"/><path d="M95.21,584.77 L96.07,587.67 L99.11,587.60 L96.61,589.32 L97.62,592.19 L95.21,590.34 L92.80,592.19 L93.80,589.32 L91.31,587.60 L94.34,587.67Z" fill="#8747bf" fill-opacity="1"/><path d="M99.07,571.73 L99.93,574.64 L102.97,574.57 L100.47,576.29 L101.48,579.15 L99.07,577.31 L96.66,579.15 L97.66,576.29 L95.17,574.57 L98.20,574.64Z" fill="#8747bf" fill-opacity="1"/><path d="M102.93,560.80 L103.79,563.71 L106.83,563.64 L104.33,565.36 L105.34,568.22 L102.93,566.38 L100.52,568.22 L101.52,565.36 L99.03,563.64 L102.06,563.71Z" fill="#8747bf" fill-opacity="1"/><path d="M106.79,555.92 L107.66,558.82 L110.69,558.75 L108.19,560.47 L109.20,563.33 L106.79,561.49 L104.38,563.33 L105.38,560.47 L102.89,558.75 L105.92,558.82Z" fill="#8747bf" fill-opacity="1"/><path d="M110.65,560.42 L111.52,563.32 L114.55,563.25 L112.05,564.97 L113.06,567.84 L110.65,565.99 L108.24,567.84 L109.24,564.97 L106.75,563.25 L109.78,563.32Z" fill="#8747bf" fill-opacity="1"/><path d="M114.51,572.14 L115.38,575.04 L118.41,574.97 L115.91,576.69 L116.92,579.55 L114.51,577.71 L112.10,579.55 L113.10,576.69 L110.61,574.97 L113.64,575.04Z" fill="#8747bf" fill-opacity="1"/><path d="M118.37,586.47 L119.24,589.38 L122.27,589.30 L119.77,591.03 L120.78,593.89 L118.37,592.05 L115.96,593.89 L116.96,591.03 L114.47,589.30 L117.50,589.38Z" fill="#8747bf" fill-opacity="1"/><path d="M122.23,598.81 L123.10,601.72 L126.13,601.65 L123.63,603.37 L124.64,606.23 L122.23,604.39 L119.82,606.23 L120.83,603.37 L118.33,601.65 L121.36,601.72Z" fill="#8747bf" fill-opacity="1"/><path d="M126.09,604.56 L126.96,607.47 L129.99,607.40 L127.49,609.12 L128.50,611.98 L126.09,610.14 L123.68,611.98 L124.69,609.12 L122.19,607.40 L125.22,607.47Z" fill="#8747bf" fill-opacity="1"/><path d="M129.95,600.83 L130.82,603.74 L133.85,603.67 L131.35,605.39 L132.36,608.25 L129.95,606.41 L127.54,608.25 L128.55,605.39 L126.05,603.67 L129.08,603.74Z" fill="#8747bf" fill-opacity="1"/><path d="M133.81,590.36 L134.68,593.27 L137.71,593.20 L135.21,594.92 L136.22,597.78 L133.81,595.94 L131.40,597.78 L132.41,594.92 L129.91,593.20 L132.94,593.27Z" fill="#8747bf" fill-opacity="1"/><path d="M137.67,576.70 L138.54,579.60 L141.57,579.53 L139.07,581.25 L140.08,584.11 L137.67,582.27 L135.26,584.11 L136.27,581.25 L133.77,579.53 L136.80,579.60Z" fill="#8747bf" fill-opacity="1"/><path d="M141.53,563.37 L142.40,566.27 L145.43,566.20 L142.94,567.92 L143.94,570.78 L141.53,568.94 L139.12,570.78 L140.13,567.92 L137.63,566.20 L140.66,566.27Z" fill="#8747bf" fill-opacity="1"/><path d="M145.39,553.92 L146.26,556.82 L149.29,556.75 L146.80,558.47 L147.80,561.33 L145.39,559.49 L142.98,561.33 L143.99,558.47 L141.49,556.75 L144.52,556.82Z" fill="#8747bf" fill-opacity="1"/><path d="M149.25,551.90 L150.12,554.81 L153.15,554.73 L150.66,556.46 L151.66,559.32 L149.25,557.48 L146.84,559.32 L147.85,556.46 L145.35,554.73 L148.38,554.81Z" fill="#8747bf" fill-opacity="1"/><path d="M153.11,559.07 L153.98,561.98 L157.01,561.91 L154.52,563.63 L155.52,566.49 L153.11,564.65 L150.70,566.49 L151.71,563.63 L149.21,561.91 L152.24,561.98Z" fill="#8747bf" fill-opacity="1"/><path d="M156.97,572.00 L157.84,574.91 L160.87,574.83 L158.38,576.56 L159.38,579.42 L156.97,577.58 L154.56,579.42 L155.57,576.56 L153.07,574.83 L156.11,574.91Z" fill="#8747bf" fill-opacity="1"/><path d="M160.83,586.44 L161.70,589.35 L164.73,589.28 L162.24,591.00 L163.24,593.86 L160.83,592.02 L158.42,593.86 L159.43,591.00 L156.93,589.28 L159.97,589.35Z" fill="#8747bf" fill-opacity="1"/><path d="M164.69,598.16 L165.56,601.06 L168.59,600.99 L166.10,602.71 L167.10,605.57 L164.69,603.73 L162.28,605.57 L163.29,602.71 L160.79,600.99 L163.83,601.06Z" fill="#8747bf" fill-opacity="1"/><path d="M168.55,602.90 L169.42,605.80 L172.45,605.73 L169.96,607.46 L170.96,610.32 L168.55,608.48 L166.14,610.32 L167.15,607.46 L164.65,605.73 L167.69,605.80Z" fill="#8747bf" fill-opacity="1"/><path d="M172.41,598.58 L173.28,601.49 L176.31,601.42 L173.82,603.14 L174.82,606.00 L172.41,604.16 L170.00,606.00 L171.01,603.14 L168.52,601.42 L171.55,601.49Z" fill="#8747bf" fill-opacity="1"/><path d="M176.27,588.35 L177.14,591.26 L180.17,591.18 L177.68,592.91 L178.68,595.77 L176.27,593.93 L173.87,595.77 L174.87,592.91 L172.38,591.18 L175.41,591.26Z" fill="#8747bf" fill-opacity="1"/><path d="M180.14,575.86 L181.00,578.77 L184.03,578.69 L181.54,580.42 L182.55,583.28 L180.14,581.44 L177.73,583.28 L178.73,580.42 L176.24,578.69 L179.27,578.77Z" fill="#8747bf" fill-opacity="1"/><path d="M184.00,564.78 L184.86,567.69 L187.90,567.62 L185.40,569.34 L186.41,572.20 L184.00,570.36 L181.59,572.20 L182.59,569.34 L180.10,567.62 L183.13,567.69Z" fill="#8747bf" fill-opacity="1"/><path d="M187.86,558.78 L188.72,561.68 L191.76,561.61 L189.26,563.34 L190.27,566.20 L187.86,564.35 L185.45,566.20 L186.45,563.34 L183.96,561.61 L186.99,561.68Z" fill="#8747bf" fill-opacity="1"/><path d="M191.72,561.07 L192.58,563.97 L195.62,563.90 L193.12,565.62 L194.13,568.48 L191.72,566.64 L189.31,568.48 L190.31,565.62 L187.82,563.90 L190.85,563.97Z" fill="#8747bf" fill-opacity="1"/><path d="M195.58,570.40 L196.44,573.31 L199.48,573.23 L196.98,574.96 L197.99,577.82 L195.58,575.98 L193.17,577.82 L194.17,574.96 L191.68,573.23 L194.71,573.31Z" fill="#8747bf" fill-opacity="1"/><path d="M199.44,583.01 L200.31,585.92 L203.34,585.84 L200.84,587.57 L201.85,590.43 L199.44,588.59 L197.03,590.43 L198.03,587.57 L195.54,585.84 L198.57,585.92Z" fill="#8747bf" fill-opacity="1"/><path d="M37.30,629.90 L41.16,627.89 L45.02,616.99 L48.88,601.71 L52.74,586.58 L56.60,576.14 L60.46,574.75 L64.32,582.60 L68.18,595.65 L72.04,609.76 L75.90,620.73 L79.76,624.41 L83.62,617.72 L87.49,603.83 L91.35,587.54 L95.21,573.69 L99.07,567.08 L102.93,570.99 L106.79,582.55 L110.65,597.59 L114.51,611.93 L118.37,621.39 L122.23,621.58 L126.09,610.27 L129.95,592.74 L133.81,575.13 L137.67,563.59 L141.53,563.40 L145.39,572.34 L149.25,586.29 L153.11,601.47 L156.97,614.09 L160.83,620.34 L164.69,616.63 L168.55,604.41 L172.41,588.69 L176.27,574.48 L180.14,566.81 L184.00,570.06 L187.86,582.64 L191.72,599.75 L195.58,616.59 L199.44,628.35" fill="none" stroke="#6c22a2" stroke-width="1.7" stroke-opacity="1" stroke-linejoin="round"/><circle cx="37.30" cy="629.90" r="3.3" fill="#6a1f9f" fill-opacity="1"/><circle cx="41.16" cy="627.89" r="3.3" fill="#6a1f9f" fill-opacity="1"/><circle cx="45.02" cy="616.99" r="3.3" fill="#6a1f9f" fill-opacity="1"/><circle cx="48.88" cy="601.71" r="3.3" fill="#6a1f9f" fill-opacity="1"/><circle cx="52.74" cy="586.58" r="3.3" fill="#6a1f9f" fill-opacity="1"/><circle cx="56.60" cy="576.14" r="3.3" fill="#6a1f9f" fill-opacity="1"/><circle cx="60.46" cy="574.75" r="3.3" fill="#6a1f9f" fill-opacity="1"/><circle cx="64.32" cy="582.60" r="3.3" fill="#6a1f9f" fill-opacity="1"/><circle cx="68.18" cy="595.65" r="3.3" fill="#6a1f9f" fill-opacity="1"/><circle cx="72.04" cy="609.76" r="3.3" fill="#6a1f9f" fill-opacity="1"/><circle cx="75.90" cy="620.73" r="3.3" fill="#6a1f9f" fill-opacity="1"/><circle cx="79.76" cy="624.41" r="3.3" fill="#6a1f9f" fill-opacity="1"/><circle cx="83.62" cy="617.72" r="3.3" fill="#6a1f9f" fill-opacity="1"/><circle cx="87.49" cy="603.83" r="3.3" fill="#6a1f9f" fill-opacity="1"/><circle cx="91.35" cy="587.54" r="3.3" fill="#6a1f9f" fill-opacity="1"/><circle cx="95.21" cy="573.69" r="3.3" fill="#6a1f9f" fill-opacity="1"/><circle cx="99.07" cy="567.08" r="3.3" fill="#6a1f9f" fill-opacity="1"/><circle cx="102.93" cy="570.99" r="3.3" fill="#6a1f9f" fill-opacity="1"/><circle cx="106.79" cy="582.55" r="3.3" fill="#6a1f9f" fill-opacity="1"/><circle cx="110.65" cy="597.59" r="3.3" fill="#6a1f9f" fill-opacity="1"/><circle cx="114.51" cy="611.93" r="3.3" fill="#6a1f9f" fill-opacity="1"/><circle cx="118.37" cy="621.39" r="3.3" fill="#6a1f9f" fill-opacity="1"/><circle cx="122.23" cy="621.58" r="3.3" fill="#6a1f9f" fill-opacity="1"/><circle cx="126.09" cy="610.27" r="3.3" fill="#6a1f9f" fill-opacity="1"/><circle cx="129.95" cy="592.74" r="3.3" fill="#6a1f9f" fill-opacity="1"/><circle cx="133.81" cy="575.13" r="3.3" fill="#6a1f9f" fill-opacity="1"/><circle cx="137.67" cy="563.59" r="3.3" fill="#6a1f9f" fill-opacity="1"/><circle cx="141.53" cy="563.40" r="3.3" fill="#6a1f9f" fill-opacity="1"/><circle cx="145.39" cy="572.34" r="3.3" fill="#6a1f9f" fill-opacity="1"/><circle cx="149.25" cy="586.29" r="3.3" fill="#6a1f9f" fill-opacity="1"/><circle cx="153.11" cy="601.47" r="3.3" fill="#6a1f9f" fill-opacity="1"/><circle cx="156.97" cy="614.09" r="3.3" fill="#6a1f9f" fill-opacity="1"/><circle cx="160.83" cy="620.34" r="3.3" fill="#6a1f9f" fill-opacity="1"/><circle cx="164.69" cy="616.63" r="3.3" fill="#6a1f9f" fill-opacity="1"/><circle cx="168.55" cy="604.41" r="3.3" fill="#6a1f9f" fill-opacity="1"/><circle cx="172.41" cy="588.69" r="3.3" fill="#6a1f9f" fill-opacity="1"/><circle cx="176.27" cy="574.48" r="3.3" fill="#6a1f9f" fill-opacity="1"/><circle cx="180.14" cy="566.81" r="3.3" fill="#6a1f9f" fill-opacity="1"/><circle cx="184.00" cy="570.06" r="3.3" fill="#6a1f9f" fill-opacity="1"/><circle cx="187.86" cy="582.64" r="3.3" fill="#6a1f9f" fill-opacity="1"/><circle cx="191.72" cy="599.75" r="3.3" fill="#6a1f9f" fill-opacity="1"/><circle cx="195.58" cy="616.59" r="3.3" fill="#6a1f9f" fill-opacity="1"/><circle cx="199.44" cy="628.35" r="3.3" fill="#6a1f9f" fill-opacity="1"/></g>
<line x1="40.6" y1="522.6" x2="70.3" y2="522.6" stroke="#8a48c2" stroke-width="1.35" stroke-opacity="1"/>
<rect x="52.95" y="519.55" width="6.1" height="6.1" fill="#8038b8" fill-opacity="0.85"/>
<text x="73.30000000000001" y="526.8000000000001" font-family="'Liberation Serif', serif" font-size="12.1" word-spacing="1.3">-3 T</text>
<line x1="94.1" y1="522.6" x2="123.9" y2="522.6" stroke="#6c22a2" stroke-width="1.7" stroke-opacity="1"/>
<circle cx="109.60" cy="522.60" r="3.3" fill="#6a1f9f" fill-opacity="1"/>
<text x="129.70000000000002" y="526.8000000000001" font-family="'Liberation Serif', serif" font-size="12.1" word-spacing="1.3">0 T</text>
<line x1="146" y1="522.6" x2="176.3" y2="522.6" stroke="#8f4fc4" stroke-width="1.25" stroke-opacity="1"/>
<path d="M161.30,518.50 L162.17,521.41 L165.20,521.33 L162.70,523.06 L163.71,525.92 L161.30,524.08 L158.89,525.92 L159.90,523.06 L157.40,521.33 L160.43,521.41Z" fill="#8747bf" fill-opacity="1"/>
<text x="182.1" y="526.8000000000001" font-family="'Liberation Serif', serif" font-size="12.1" word-spacing="1.3">3 T</text>
<g font-family="'Liberation Serif', serif" font-size="14">
<text x="37.30" y="659.6" text-anchor="middle">0</text>
<text x="78.17" y="659.6" text-anchor="middle">90</text>
<text x="119.05" y="659.6" text-anchor="middle">180</text>
<text x="159.93" y="659.6" text-anchor="middle">270</text>
<text x="200.80" y="659.6" text-anchor="middle">360</text>
<text x="32.8" y="548.4000000000001" text-anchor="end">0</text>
<text x="32.8" y="594.7" text-anchor="end">-30</text>
<text x="32.8" y="641.1" text-anchor="end">-60</text>
<text x="119.55" y="669.9" text-anchor="middle" font-size="14.1">HWP angle (degree)</text>
<text transform="translate(10.8,578.50) rotate(-90)" text-anchor="middle" font-size="14.3">Photocurrent (pA)</text>
</g>
<text x="268.2" y="499.7" font-family="'Liberation Serif', serif" font-size="22">(f) 20 K</text>
<rect x="269.9" y="512.4" width="162.3" height="130.39999999999998" fill="none" stroke="#000" stroke-width="1.5"/>
<line x1="269.90" y1="642.8" x2="269.90" y2="645.4" stroke="#000" stroke-width="1"/><line x1="290.19" y1="642.8" x2="290.19" y2="644.0999999999999" stroke="#000" stroke-width="1"/><line x1="310.47" y1="642.8" x2="310.47" y2="645.4" stroke="#000" stroke-width="1"/><line x1="330.76" y1="642.8" x2="330.76" y2="644.0999999999999" stroke="#000" stroke-width="1"/><line x1="351.05" y1="642.8" x2="351.05" y2="645.4" stroke="#000" stroke-width="1"/><line x1="371.34" y1="642.8" x2="371.34" y2="644.0999999999999" stroke="#000" stroke-width="1"/><line x1="391.62" y1="642.8" x2="391.62" y2="645.4" stroke="#000" stroke-width="1"/><line x1="411.91" y1="642.8" x2="411.91" y2="644.0999999999999" stroke="#000" stroke-width="1"/><line x1="432.20" y1="642.8" x2="432.20" y2="645.4" stroke="#000" stroke-width="1"/><line x1="269.9" y1="529.6" x2="267.29999999999995" y2="529.6" stroke="#000" stroke-width="1"/><line x1="269.9" y1="562.2" x2="268.59999999999997" y2="562.2" stroke="#000" stroke-width="1"/><line x1="269.9" y1="594.7" x2="267.29999999999995" y2="594.7" stroke="#000" stroke-width="1"/><line x1="269.9" y1="627.3" x2="268.59999999999997" y2="627.3" stroke="#000" stroke-width="1"/>
<g><path d="M269.90,557.09 L273.73,553.75 L277.56,551.37 L281.40,552.01 L285.23,559.06 L289.06,570.20 L292.89,582.31 L296.72,592.27 L300.56,596.94 L304.39,592.84 L308.22,580.93 L312.05,565.98 L315.88,552.79 L319.72,546.14 L323.55,549.04 L327.38,558.49 L331.21,571.06 L335.05,583.36 L338.88,591.98 L342.71,593.45 L346.54,585.73 L350.37,572.45 L354.21,558.12 L358.04,547.30 L361.87,544.45 L365.70,550.49 L369.53,562.03 L373.37,575.59 L377.20,587.68 L381.03,594.81 L384.86,593.27 L388.69,582.49 L392.53,567.47 L396.36,553.53 L400.19,545.98 L404.02,548.47 L407.86,558.12 L411.69,571.45 L415.52,585.07 L419.35,595.55 L423.18,599.49 L427.02,594.32 L430.85,582.62" fill="none" stroke="#72bde6" stroke-width="1.35" stroke-opacity="1" stroke-linejoin="round"/><rect x="266.85" y="554.04" width="6.1" height="6.1" fill="#6ab7e4" fill-opacity="0.9"/><rect x="270.68" y="550.70" width="6.1" height="6.1" fill="#6ab7e4" fill-opacity="0.9"/><rect x="274.51" y="548.32" width="6.1" height="6.1" fill="#6ab7e4" fill-opacity="0.9"/><rect x="278.35" y="548.96" width="6.1" height="6.1" fill="#6ab7e4" fill-opacity="0.9"/><rect x="282.18" y="556.01" width="6.1" height="6.1" fill="#6ab7e4" fill-opacity="0.9"/><rect x="286.01" y="567.15" width="6.1" height="6.1" fill="#6ab7e4" fill-opacity="0.9"/><rect x="289.84" y="579.26" width="6.1" height="6.1" fill="#6ab7e4" fill-opacity="0.9"/><rect x="293.67" y="589.22" width="6.1" height="6.1" fill="#6ab7e4" fill-opacity="0.9"/><rect x="297.51" y="593.89" width="6.1" height="6.1" fill="#6ab7e4" fill-opacity="0.9"/><rect x="301.34" y="589.79" width="6.1" height="6.1" fill="#6ab7e4" fill-opacity="0.9"/><rect x="305.17" y="577.88" width="6.1" height="6.1" fill="#6ab7e4" fill-opacity="0.9"/><rect x="309.00" y="562.93" width="6.1" height="6.1" fill="#6ab7e4" fill-opacity="0.9"/><rect x="312.83" y="549.74" width="6.1" height="6.1" fill="#6ab7e4" fill-opacity="0.9"/><rect x="316.67" y="543.09" width="6.1" height="6.1" fill="#6ab7e4" fill-opacity="0.9"/><rect x="320.50" y="545.99" width="6.1" height="6.1" fill="#6ab7e4" fill-opacity="0.9"/><rect x="324.33" y="555.44" width="6.1" height="6.1" fill="#6ab7e4" fill-opacity="0.9"/><rect x="328.16" y="568.01" width="6.1" height="6.1" fill="#6ab7e4" fill-opacity="0.9"/><rect x="332.00" y="580.31" width="6.1" height="6.1" fill="#6ab7e4" fill-opacity="0.9"/><rect x="335.83" y="588.93" width="6.1" height="6.1" fill="#6ab7e4" fill-opacity="0.9"/><rect x="339.66" y="590.40" width="6.1" height="6.1" fill="#6ab7e4" fill-opacity="0.9"/><rect x="343.49" y="582.68" width="6.1" height="6.1" fill="#6ab7e4" fill-opacity="0.9"/><rect x="347.32" y="569.40" width="6.1" height="6.1" fill="#6ab7e4" fill-opacity="0.9"/><rect x="351.16" y="555.07" width="6.1" height="6.1" fill="#6ab7e4" fill-opacity="0.9"/><rect x="354.99" y="544.25" width="6.1" height="6.1" fill="#6ab7e4" fill-opacity="0.9"/><rect x="358.82" y="541.40" width="6.1" height="6.1" fill="#6ab7e4" fill-opacity="0.9"/><rect x="362.65" y="547.44" width="6.1" height="6.1" fill="#6ab7e4" fill-opacity="0.9"/><rect x="366.48" y="558.98" width="6.1" height="6.1" fill="#6ab7e4" fill-opacity="0.9"/><rect x="370.32" y="572.54" width="6.1" height="6.1" fill="#6ab7e4" fill-opacity="0.9"/><rect x="374.15" y="584.63" width="6.1" height="6.1" fill="#6ab7e4" fill-opacity="0.9"/><rect x="377.98" y="591.76" width="6.1" height="6.1" fill="#6ab7e4" fill-opacity="0.9"/><rect x="381.81" y="590.22" width="6.1" height="6.1" fill="#6ab7e4" fill-opacity="0.9"/><rect x="385.64" y="579.44" width="6.1" height="6.1" fill="#6ab7e4" fill-opacity="0.9"/><rect x="389.48" y="564.42" width="6.1" height="6.1" fill="#6ab7e4" fill-opacity="0.9"/><rect x="393.31" y="550.48" width="6.1" height="6.1" fill="#6ab7e4" fill-opacity="0.9"/><rect x="397.14" y="542.93" width="6.1" height="6.1" fill="#6ab7e4" fill-opacity="0.9"/><rect x="400.97" y="545.42" width="6.1" height="6.1" fill="#6ab7e4" fill-opacity="0.9"/><rect x="404.81" y="555.07" width="6.1" height="6.1" fill="#6ab7e4" fill-opacity="0.9"/><rect x="408.64" y="568.40" width="6.1" height="6.1" fill="#6ab7e4" fill-opacity="0.9"/><rect x="412.47" y="582.02" width="6.1" height="6.1" fill="#6ab7e4" fill-opacity="0.9"/><rect x="416.30" y="592.50" width="6.1" height="6.1" fill="#6ab7e4" fill-opacity="0.9"/><rect x="420.13" y="596.44" width="6.1" height="6.1" fill="#6ab7e4" fill-opacity="0.9"/><rect x="423.97" y="591.27" width="6.1" height="6.1" fill="#6ab7e4" fill-opacity="0.9"/><rect x="427.80" y="579.57" width="6.1" height="6.1" fill="#6ab7e4" fill-opacity="0.9"/><path d="M269.90,616.82 L273.73,624.23 L277.56,630.75 L281.40,632.84 L285.23,625.34 L289.06,610.07 L292.89,591.87 L296.72,575.54 L300.56,565.90 L304.39,567.32 L308.22,578.57 L312.05,594.73 L315.88,610.83 L319.72,621.87 L323.55,623.01 L327.38,613.66 L331.21,598.46 L335.05,582.37 L338.88,570.36 L342.71,567.37 L346.54,575.61 L350.37,590.80 L354.21,607.72 L358.04,621.17 L361.87,625.94 L365.70,619.29 L369.53,604.90 L373.37,587.49 L377.20,571.76 L381.03,562.40 L384.86,564.01 L388.69,576.34 L392.53,594.13 L396.36,611.88 L400.19,624.10 L404.02,625.53 L407.86,616.08 L411.69,600.59 L415.52,584.05 L419.35,571.43 L423.18,567.71 L427.02,575.32 L430.85,590.09" fill="none" stroke="#70c0ea" stroke-width="1.25" stroke-opacity="1" stroke-linejoin="round"/><path d="M269.90,612.72 L270.77,615.63 L273.80,615.55 L271.30,617.28 L272.31,620.14 L269.90,618.30 L267.49,620.14 L268.50,617.28 L266.00,615.55 L269.03,615.63Z" fill="#6dbde8" fill-opacity="1"/><path d="M273.73,620.13 L274.60,623.03 L277.63,622.96 L275.14,624.68 L276.14,627.54 L273.73,625.70 L271.32,627.54 L272.33,624.68 L269.83,622.96 L272.86,623.03Z" fill="#6dbde8" fill-opacity="1"/><path d="M277.56,626.65 L278.43,629.55 L281.46,629.48 L278.97,631.20 L279.97,634.06 L277.56,632.22 L275.15,634.06 L276.16,631.20 L273.66,629.48 L276.70,629.55Z" fill="#6dbde8" fill-opacity="1"/><path d="M281.40,628.74 L282.26,631.65 L285.30,631.57 L282.80,633.30 L283.81,636.16 L281.40,634.32 L278.99,636.16 L279.99,633.30 L277.50,631.57 L280.53,631.65Z" fill="#6dbde8" fill-opacity="1"/><path d="M285.23,621.24 L286.10,624.14 L289.13,624.07 L286.63,625.79 L287.64,628.66 L285.23,626.81 L282.82,628.66 L283.82,625.79 L281.33,624.07 L284.36,624.14Z" fill="#6dbde8" fill-opacity="1"/><path d="M289.06,605.97 L289.93,608.88 L292.96,608.81 L290.46,610.53 L291.47,613.39 L289.06,611.55 L286.65,613.39 L287.66,610.53 L285.16,608.81 L288.19,608.88Z" fill="#6dbde8" fill-opacity="1"/><path d="M292.89,587.77 L293.76,590.67 L296.79,590.60 L294.30,592.32 L295.30,595.18 L292.89,593.34 L290.48,595.18 L291.49,592.32 L288.99,590.60 L292.02,590.67Z" fill="#6dbde8" fill-opacity="1"/><path d="M296.72,571.44 L297.59,574.34 L300.62,574.27 L298.13,575.99 L299.13,578.85 L296.72,577.01 L294.31,578.85 L295.32,575.99 L292.83,574.27 L295.86,574.34Z" fill="#6dbde8" fill-opacity="1"/><path d="M300.56,561.80 L301.42,564.71 L304.46,564.64 L301.96,566.36 L302.97,569.22 L300.56,567.38 L298.15,569.22 L299.15,566.36 L296.66,564.64 L299.69,564.71Z" fill="#6dbde8" fill-opacity="1"/><path d="M304.39,563.22 L305.26,566.13 L308.29,566.06 L305.79,567.78 L306.80,570.64 L304.39,568.80 L301.98,570.64 L302.98,567.78 L300.49,566.06 L303.52,566.13Z" fill="#6dbde8" fill-opacity="1"/><path d="M308.22,574.47 L309.09,577.38 L312.12,577.31 L309.62,579.03 L310.63,581.89 L308.22,580.05 L305.81,581.89 L306.82,579.03 L304.32,577.31 L307.35,577.38Z" fill="#6dbde8" fill-opacity="1"/><path d="M312.05,590.63 L312.92,593.54 L315.95,593.47 L313.46,595.19 L314.46,598.05 L312.05,596.21 L309.64,598.05 L310.65,595.19 L308.15,593.47 L311.19,593.54Z" fill="#6dbde8" fill-opacity="1"/><path d="M315.88,606.73 L316.75,609.63 L319.78,609.56 L317.29,611.28 L318.29,614.14 L315.88,612.30 L313.48,614.14 L314.48,611.28 L311.99,609.56 L315.02,609.63Z" fill="#6dbde8" fill-opacity="1"/><path d="M319.72,617.77 L320.58,620.68 L323.62,620.60 L321.12,622.33 L322.13,625.19 L319.72,623.35 L317.31,625.19 L318.31,622.33 L315.82,620.60 L318.85,620.68Z" fill="#6dbde8" fill-opacity="1"/><path d="M323.55,618.91 L324.42,621.81 L327.45,621.74 L324.95,623.46 L325.96,626.32 L323.55,624.48 L321.14,626.32 L322.15,623.46 L319.65,621.74 L322.68,621.81Z" fill="#6dbde8" fill-opacity="1"/><path d="M327.38,609.56 L328.25,612.46 L331.28,612.39 L328.79,614.11 L329.79,616.97 L327.38,615.13 L324.97,616.97 L325.98,614.11 L323.48,612.39 L326.51,612.46Z" fill="#6dbde8" fill-opacity="1"/><path d="M331.21,594.36 L332.08,597.27 L335.11,597.19 L332.62,598.92 L333.62,601.78 L331.21,599.94 L328.80,601.78 L329.81,598.92 L327.31,597.19 L330.35,597.27Z" fill="#6dbde8" fill-opacity="1"/><path d="M335.05,578.27 L335.91,581.18 L338.94,581.11 L336.45,582.83 L337.46,585.69 L335.05,583.85 L332.64,585.69 L333.64,582.83 L331.15,581.11 L334.18,581.18Z" fill="#6dbde8" fill-opacity="1"/><path d="M338.88,566.26 L339.75,569.16 L342.78,569.09 L340.28,570.81 L341.29,573.68 L338.88,571.83 L336.47,573.68 L337.47,570.81 L334.98,569.09 L338.01,569.16Z" fill="#6dbde8" fill-opacity="1"/><path d="M342.71,563.27 L343.58,566.17 L346.61,566.10 L344.11,567.82 L345.12,570.68 L342.71,568.84 L340.30,570.68 L341.31,567.82 L338.81,566.10 L341.84,566.17Z" fill="#6dbde8" fill-opacity="1"/><path d="M346.54,571.51 L347.41,574.41 L350.44,574.34 L347.95,576.06 L348.95,578.93 L346.54,577.08 L344.13,578.93 L345.14,576.06 L342.64,574.34 L345.67,574.41Z" fill="#6dbde8" fill-opacity="1"/><path d="M350.37,586.70 L351.24,589.60 L354.27,589.53 L351.78,591.25 L352.78,594.12 L350.37,592.27 L347.96,594.12 L348.97,591.25 L346.47,589.53 L349.51,589.60Z" fill="#6dbde8" fill-opacity="1"/><path d="M354.21,603.62 L355.07,606.53 L358.11,606.46 L355.61,608.18 L356.62,611.04 L354.21,609.20 L351.80,611.04 L352.80,608.18 L350.31,606.46 L353.34,606.53Z" fill="#6dbde8" fill-opacity="1"/><path d="M358.04,617.07 L358.91,619.98 L361.94,619.91 L359.44,621.63 L360.45,624.49 L358.04,622.65 L355.63,624.49 L356.63,621.63 L354.14,619.91 L357.17,619.98Z" fill="#6dbde8" fill-opacity="1"/><path d="M361.87,621.84 L362.74,624.75 L365.77,624.67 L363.27,626.40 L364.28,629.26 L361.87,627.42 L359.46,629.26 L360.47,626.40 L357.97,624.67 L361.00,624.75Z" fill="#6dbde8" fill-opacity="1"/><path d="M365.70,615.19 L366.57,618.09 L369.60,618.02 L367.11,619.74 L368.11,622.60 L365.70,620.76 L363.29,622.60 L364.30,619.74 L361.80,618.02 L364.83,618.09Z" fill="#6dbde8" fill-opacity="1"/><path d="M369.53,600.80 L370.40,603.71 L373.43,603.63 L370.94,605.36 L371.94,608.22 L369.53,606.38 L367.12,608.22 L368.13,605.36 L365.63,603.63 L368.67,603.71Z" fill="#6dbde8" fill-opacity="1"/><path d="M373.37,583.39 L374.23,586.30 L377.27,586.22 L374.77,587.95 L375.78,590.81 L373.37,588.97 L370.96,590.81 L371.96,587.95 L369.47,586.22 L372.50,586.30Z" fill="#6dbde8" fill-opacity="1"/><path d="M377.20,567.66 L378.07,570.56 L381.10,570.49 L378.60,572.21 L379.61,575.07 L377.20,573.23 L374.79,575.07 L375.79,572.21 L373.30,570.49 L376.33,570.56Z" fill="#6dbde8" fill-opacity="1"/><path d="M381.03,558.30 L381.90,561.21 L384.93,561.14 L382.43,562.86 L383.44,565.72 L381.03,563.88 L378.62,565.72 L379.63,562.86 L377.13,561.14 L380.16,561.21Z" fill="#6dbde8" fill-opacity="1"/><path d="M384.86,559.91 L385.73,562.81 L388.76,562.74 L386.27,564.46 L387.27,567.32 L384.86,565.48 L382.45,567.32 L383.46,564.46 L380.96,562.74 L383.99,562.81Z" fill="#6dbde8" fill-opacity="1"/><path d="M388.69,572.24 L389.56,575.15 L392.59,575.08 L390.10,576.80 L391.10,579.66 L388.69,577.82 L386.28,579.66 L387.29,576.80 L384.80,575.08 L387.83,575.15Z" fill="#6dbde8" fill-opacity="1"/><path d="M392.53,590.03 L393.39,592.94 L396.43,592.86 L393.93,594.59 L394.94,597.45 L392.53,595.61 L390.12,597.45 L391.12,594.59 L388.63,592.86 L391.66,592.94Z" fill="#6dbde8" fill-opacity="1"/><path d="M396.36,607.78 L397.23,610.68 L400.26,610.61 L397.76,612.33 L398.77,615.19 L396.36,613.35 L393.95,615.19 L394.95,612.33 L392.46,610.61 L395.49,610.68Z" fill="#6dbde8" fill-opacity="1"/><path d="M400.19,620.00 L401.06,622.91 L404.09,622.83 L401.59,624.56 L402.60,627.42 L400.19,625.58 L397.78,627.42 L398.79,624.56 L396.29,622.83 L399.32,622.91Z" fill="#6dbde8" fill-opacity="1"/><path d="M404.02,621.43 L404.89,624.33 L407.92,624.26 L405.43,625.98 L406.43,628.84 L404.02,627.00 L401.61,628.84 L402.62,625.98 L400.12,624.26 L403.16,624.33Z" fill="#6dbde8" fill-opacity="1"/><path d="M407.86,611.98 L408.72,614.88 L411.75,614.81 L409.26,616.53 L410.26,619.39 L407.86,617.55 L405.45,619.39 L406.45,616.53 L403.96,614.81 L406.99,614.88Z" fill="#6dbde8" fill-opacity="1"/><path d="M411.69,596.49 L412.55,599.40 L415.59,599.32 L413.09,601.05 L414.10,603.91 L411.69,602.07 L409.28,603.91 L410.28,601.05 L407.79,599.32 L410.82,599.40Z" fill="#6dbde8" fill-opacity="1"/><path d="M415.52,579.95 L416.39,582.85 L419.42,582.78 L416.92,584.50 L417.93,587.36 L415.52,585.52 L413.11,587.36 L414.12,584.50 L411.62,582.78 L414.65,582.85Z" fill="#6dbde8" fill-opacity="1"/><path d="M419.35,567.33 L420.22,570.23 L423.25,570.16 L420.76,571.88 L421.76,574.74 L419.35,572.90 L416.94,574.74 L417.95,571.88 L415.45,570.16 L418.48,570.23Z" fill="#6dbde8" fill-opacity="1"/><path d="M423.18,563.61 L424.05,566.51 L427.08,566.44 L424.59,568.16 L425.59,571.02 L423.18,569.18 L420.77,571.02 L421.78,568.16 L419.28,566.44 L422.32,566.51Z" fill="#6dbde8" fill-opacity="1"/><path d="M427.02,571.22 L427.88,574.13 L430.91,574.05 L428.42,575.78 L429.43,578.64 L427.02,576.80 L424.61,578.64 L425.61,575.78 L423.12,574.05 L426.15,574.13Z" fill="#6dbde8" fill-opacity="1"/><path d="M430.85,585.99 L431.72,588.90 L434.75,588.82 L432.25,590.55 L433.26,593.41 L430.85,591.57 L428.44,593.41 L429.44,590.55 L426.95,588.82 L429.98,588.90Z" fill="#6dbde8" fill-opacity="1"/><path d="M269.90,623.18 L273.73,621.57 L277.56,613.81 L281.40,602.82 L285.23,591.56 L289.06,582.98 L292.89,580.05 L296.72,584.80 L300.56,594.70 L304.39,606.02 L308.22,615.00 L312.05,617.91 L315.88,613.10 L319.72,603.23 L323.55,591.47 L327.38,580.99 L331.21,574.97 L335.05,577.03 L338.88,587.95 L342.71,602.80 L346.54,616.33 L350.37,623.34 L354.21,620.71 L358.04,611.72 L361.87,599.43 L365.70,586.85 L369.53,576.97 L373.37,572.81 L377.20,577.38 L381.03,588.89 L384.86,602.83 L388.69,614.69 L392.53,619.99 L396.36,616.05 L400.19,605.87 L404.02,593.29 L407.86,582.13 L411.69,576.22 L415.52,579.49 L419.35,591.18 L423.18,606.15 L427.02,619.16 L430.85,624.99" fill="none" stroke="#5b9bd5" stroke-width="1.7" stroke-opacity="1" stroke-linejoin="round"/><circle cx="269.90" cy="623.18" r="3.3" fill="#5a97d2" fill-opacity="1"/><circle cx="273.73" cy="621.57" r="3.3" fill="#5a97d2" fill-opacity="1"/><circle cx="277.56" cy="613.81" r="3.3" fill="#5a97d2" fill-opacity="1"/><circle cx="281.40" cy="602.82" r="3.3" fill="#5a97d2" fill-opacity="1"/><circle cx="285.23" cy="591.56" r="3.3" fill="#5a97d2" fill-opacity="1"/><circle cx="289.06" cy="582.98" r="3.3" fill="#5a97d2" fill-opacity="1"/><circle cx="292.89" cy="580.05" r="3.3" fill="#5a97d2" fill-opacity="1"/><circle cx="296.72" cy="584.80" r="3.3" fill="#5a97d2" fill-opacity="1"/><circle cx="300.56" cy="594.70" r="3.3" fill="#5a97d2" fill-opacity="1"/><circle cx="304.39" cy="606.02" r="3.3" fill="#5a97d2" fill-opacity="1"/><circle cx="308.22" cy="615.00" r="3.3" fill="#5a97d2" fill-opacity="1"/><circle cx="312.05" cy="617.91" r="3.3" fill="#5a97d2" fill-opacity="1"/><circle cx="315.88" cy="613.10" r="3.3" fill="#5a97d2" fill-opacity="1"/><circle cx="319.72" cy="603.23" r="3.3" fill="#5a97d2" fill-opacity="1"/><circle cx="323.55" cy="591.47" r="3.3" fill="#5a97d2" fill-opacity="1"/><circle cx="327.38" cy="580.99" r="3.3" fill="#5a97d2" fill-opacity="1"/><circle cx="331.21" cy="574.97" r="3.3" fill="#5a97d2" fill-opacity="1"/><circle cx="335.05" cy="577.03" r="3.3" fill="#5a97d2" fill-opacity="1"/><circle cx="338.88" cy="587.95" r="3.3" fill="#5a97d2" fill-opacity="1"/><circle cx="342.71" cy="602.80" r="3.3" fill="#5a97d2" fill-opacity="1"/><circle cx="346.54" cy="616.33" r="3.3" fill="#5a97d2" fill-opacity="1"/><circle cx="350.37" cy="623.34" r="3.3" fill="#5a97d2" fill-opacity="1"/><circle cx="354.21" cy="620.71" r="3.3" fill="#5a97d2" fill-opacity="1"/><circle cx="358.04" cy="611.72" r="3.3" fill="#5a97d2" fill-opacity="1"/><circle cx="361.87" cy="599.43" r="3.3" fill="#5a97d2" fill-opacity="1"/><circle cx="365.70" cy="586.85" r="3.3" fill="#5a97d2" fill-opacity="1"/><circle cx="369.53" cy="576.97" r="3.3" fill="#5a97d2" fill-opacity="1"/><circle cx="373.37" cy="572.81" r="3.3" fill="#5a97d2" fill-opacity="1"/><circle cx="377.20" cy="577.38" r="3.3" fill="#5a97d2" fill-opacity="1"/><circle cx="381.03" cy="588.89" r="3.3" fill="#5a97d2" fill-opacity="1"/><circle cx="384.86" cy="602.83" r="3.3" fill="#5a97d2" fill-opacity="1"/><circle cx="388.69" cy="614.69" r="3.3" fill="#5a97d2" fill-opacity="1"/><circle cx="392.53" cy="619.99" r="3.3" fill="#5a97d2" fill-opacity="1"/><circle cx="396.36" cy="616.05" r="3.3" fill="#5a97d2" fill-opacity="1"/><circle cx="400.19" cy="605.87" r="3.3" fill="#5a97d2" fill-opacity="1"/><circle cx="404.02" cy="593.29" r="3.3" fill="#5a97d2" fill-opacity="1"/><circle cx="407.86" cy="582.13" r="3.3" fill="#5a97d2" fill-opacity="1"/><circle cx="411.69" cy="576.22" r="3.3" fill="#5a97d2" fill-opacity="1"/><circle cx="415.52" cy="579.49" r="3.3" fill="#5a97d2" fill-opacity="1"/><circle cx="419.35" cy="591.18" r="3.3" fill="#5a97d2" fill-opacity="1"/><circle cx="423.18" cy="606.15" r="3.3" fill="#5a97d2" fill-opacity="1"/><circle cx="427.02" cy="619.16" r="3.3" fill="#5a97d2" fill-opacity="1"/><circle cx="430.85" cy="624.99" r="3.3" fill="#5a97d2" fill-opacity="1"/></g>
<line x1="272.9" y1="523.2" x2="302.1" y2="523.2" stroke="#72bde6" stroke-width="1.35" stroke-opacity="1"/>
<rect x="284.05" y="520.15" width="6.1" height="6.1" fill="#6ab7e4" fill-opacity="0.9"/>
<text x="305.09999999999997" y="527.4000000000001" font-family="'Liberation Serif', serif" font-size="12.1" word-spacing="1.3">-3 T</text>
<line x1="325.2" y1="523.2" x2="355.2" y2="523.2" stroke="#5b9bd5" stroke-width="1.7" stroke-opacity="1"/>
<circle cx="340.70" cy="523.20" r="3.3" fill="#5a97d2" fill-opacity="1"/>
<text x="361.79999999999995" y="527.4000000000001" font-family="'Liberation Serif', serif" font-size="12.1" word-spacing="1.3">0 T</text>
<line x1="378.3" y1="523.2" x2="408.1" y2="523.2" stroke="#70c0ea" stroke-width="1.25" stroke-opacity="1"/>
<path d="M393.10,519.10 L393.97,522.01 L397.00,521.93 L394.50,523.66 L395.51,526.52 L393.10,524.68 L390.69,526.52 L391.70,523.66 L389.20,521.93 L392.23,522.01Z" fill="#6dbde8" fill-opacity="1"/>
<text x="413.4" y="527.4000000000001" font-family="'Liberation Serif', serif" font-size="12.1" word-spacing="1.3">3 T</text>
<g font-family="'Liberation Serif', serif" font-size="14">
<text x="269.90" y="657.8" text-anchor="middle">0</text>
<text x="310.47" y="657.8" text-anchor="middle">90</text>
<text x="351.05" y="657.8" text-anchor="middle">180</text>
<text x="391.62" y="657.8" text-anchor="middle">270</text>
<text x="432.20" y="657.8" text-anchor="middle">360</text>
<text x="265.4" y="534.3000000000001" text-anchor="end">0</text>
<text x="265.4" y="599.4000000000001" text-anchor="end">-20</text>
<text x="351.55" y="668.3" text-anchor="middle" font-size="14.1">HWP angle (degree)</text>
<text transform="translate(245,577.60) rotate(-90)" text-anchor="middle" font-size="14.3">Photocurrent (pA)</text>
</g>
<text x="511.2" y="499" font-family="'Liberation Serif', serif" font-size="22">(e) 30 K</text>
<rect x="513" y="512.4" width="159.89999999999998" height="129.10000000000002" fill="none" stroke="#000" stroke-width="1.5"/>
<line x1="513.00" y1="641.5" x2="513.00" y2="644.1" stroke="#000" stroke-width="1"/><line x1="532.99" y1="641.5" x2="532.99" y2="642.8" stroke="#000" stroke-width="1"/><line x1="552.98" y1="641.5" x2="552.98" y2="644.1" stroke="#000" stroke-width="1"/><line x1="572.96" y1="641.5" x2="572.96" y2="642.8" stroke="#000" stroke-width="1"/><line x1="592.95" y1="641.5" x2="592.95" y2="644.1" stroke="#000" stroke-width="1"/><line x1="612.94" y1="641.5" x2="612.94" y2="642.8" stroke="#000" stroke-width="1"/><line x1="632.92" y1="641.5" x2="632.92" y2="644.1" stroke="#000" stroke-width="1"/><line x1="652.91" y1="641.5" x2="652.91" y2="642.8" stroke="#000" stroke-width="1"/><line x1="672.90" y1="641.5" x2="672.90" y2="644.1" stroke="#000" stroke-width="1"/><line x1="513" y1="520.9" x2="511.7" y2="520.9" stroke="#000" stroke-width="1"/><line x1="513" y1="535.8" x2="511.7" y2="535.8" stroke="#000" stroke-width="1"/><line x1="513" y1="550.8" x2="510.4" y2="550.8" stroke="#000" stroke-width="1"/><line x1="513" y1="565.8" x2="511.7" y2="565.8" stroke="#000" stroke-width="1"/><line x1="513" y1="580.7" x2="511.7" y2="580.7" stroke="#000" stroke-width="1"/><line x1="513" y1="595.7" x2="510.4" y2="595.7" stroke="#000" stroke-width="1"/><line x1="513" y1="610.7" x2="511.7" y2="610.7" stroke="#000" stroke-width="1"/><line x1="513" y1="625.6" x2="511.7" y2="625.6" stroke="#000" stroke-width="1"/><line x1="513" y1="640.6" x2="510.4" y2="640.6" stroke="#000" stroke-width="1"/>
<g><path d="M513.00,553.20 L516.78,550.61 L520.55,549.00 L524.33,552.40 L528.10,561.12 L531.88,572.65 L535.65,584.45 L539.43,594.02 L543.20,598.83 L546.98,595.49 L550.75,583.72 L554.53,568.63 L558.30,555.46 L562.08,549.42 L565.86,553.25 L569.63,563.45 L573.41,576.38 L577.18,588.39 L580.96,595.82 L584.73,594.82 L588.51,584.43 L592.28,569.51 L596.06,555.35 L599.83,547.19 L603.61,548.61 L607.39,556.38 L611.16,567.72 L614.94,580.06 L618.71,590.79 L622.49,597.32 L626.26,596.66 L630.04,586.96 L633.81,572.60 L637.59,558.59 L641.36,549.94 L645.14,551.15 L648.91,561.08 L652.69,575.16 L656.47,588.76 L660.24,597.26 L664.02,596.52 L667.79,587.57 L671.57,574.34" fill="none" stroke="#7cd8a2" stroke-width="1.35" stroke-opacity="1" stroke-linejoin="round"/><rect x="509.95" y="550.15" width="6.1" height="6.1" fill="#72d49b" fill-opacity="0.9"/><rect x="513.73" y="547.56" width="6.1" height="6.1" fill="#72d49b" fill-opacity="0.9"/><rect x="517.50" y="545.95" width="6.1" height="6.1" fill="#72d49b" fill-opacity="0.9"/><rect x="521.28" y="549.35" width="6.1" height="6.1" fill="#72d49b" fill-opacity="0.9"/><rect x="525.05" y="558.07" width="6.1" height="6.1" fill="#72d49b" fill-opacity="0.9"/><rect x="528.83" y="569.60" width="6.1" height="6.1" fill="#72d49b" fill-opacity="0.9"/><rect x="532.60" y="581.40" width="6.1" height="6.1" fill="#72d49b" fill-opacity="0.9"/><rect x="536.38" y="590.97" width="6.1" height="6.1" fill="#72d49b" fill-opacity="0.9"/><rect x="540.15" y="595.78" width="6.1" height="6.1" fill="#72d49b" fill-opacity="0.9"/><rect x="543.93" y="592.44" width="6.1" height="6.1" fill="#72d49b" fill-opacity="0.9"/><rect x="547.70" y="580.67" width="6.1" height="6.1" fill="#72d49b" fill-opacity="0.9"/><rect x="551.48" y="565.58" width="6.1" height="6.1" fill="#72d49b" fill-opacity="0.9"/><rect x="555.25" y="552.41" width="6.1" height="6.1" fill="#72d49b" fill-opacity="0.9"/><rect x="559.03" y="546.37" width="6.1" height="6.1" fill="#72d49b" fill-opacity="0.9"/><rect x="562.81" y="550.20" width="6.1" height="6.1" fill="#72d49b" fill-opacity="0.9"/><rect x="566.58" y="560.40" width="6.1" height="6.1" fill="#72d49b" fill-opacity="0.9"/><rect x="570.36" y="573.33" width="6.1" height="6.1" fill="#72d49b" fill-opacity="0.9"/><rect x="574.13" y="585.34" width="6.1" height="6.1" fill="#72d49b" fill-opacity="0.9"/><rect x="577.91" y="592.77" width="6.1" height="6.1" fill="#72d49b" fill-opacity="0.9"/><rect x="581.68" y="591.77" width="6.1" height="6.1" fill="#72d49b" fill-opacity="0.9"/><rect x="585.46" y="581.38" width="6.1" height="6.1" fill="#72d49b" fill-opacity="0.9"/><rect x="589.23" y="566.46" width="6.1" height="6.1" fill="#72d49b" fill-opacity="0.9"/><rect x="593.01" y="552.30" width="6.1" height="6.1" fill="#72d49b" fill-opacity="0.9"/><rect x="596.78" y="544.14" width="6.1" height="6.1" fill="#72d49b" fill-opacity="0.9"/><rect x="600.56" y="545.56" width="6.1" height="6.1" fill="#72d49b" fill-opacity="0.9"/><rect x="604.34" y="553.33" width="6.1" height="6.1" fill="#72d49b" fill-opacity="0.9"/><rect x="608.11" y="564.67" width="6.1" height="6.1" fill="#72d49b" fill-opacity="0.9"/><rect x="611.89" y="577.01" width="6.1" height="6.1" fill="#72d49b" fill-opacity="0.9"/><rect x="615.66" y="587.74" width="6.1" height="6.1" fill="#72d49b" fill-opacity="0.9"/><rect x="619.44" y="594.27" width="6.1" height="6.1" fill="#72d49b" fill-opacity="0.9"/><rect x="623.21" y="593.61" width="6.1" height="6.1" fill="#72d49b" fill-opacity="0.9"/><rect x="626.99" y="583.91" width="6.1" height="6.1" fill="#72d49b" fill-opacity="0.9"/><rect x="630.76" y="569.55" width="6.1" height="6.1" fill="#72d49b" fill-opacity="0.9"/><rect x="634.54" y="555.54" width="6.1" height="6.1" fill="#72d49b" fill-opacity="0.9"/><rect x="638.31" y="546.89" width="6.1" height="6.1" fill="#72d49b" fill-opacity="0.9"/><rect x="642.09" y="548.10" width="6.1" height="6.1" fill="#72d49b" fill-opacity="0.9"/><rect x="645.87" y="558.03" width="6.1" height="6.1" fill="#72d49b" fill-opacity="0.9"/><rect x="649.64" y="572.11" width="6.1" height="6.1" fill="#72d49b" fill-opacity="0.9"/><rect x="653.42" y="585.71" width="6.1" height="6.1" fill="#72d49b" fill-opacity="0.9"/><rect x="657.19" y="594.21" width="6.1" height="6.1" fill="#72d49b" fill-opacity="0.9"/><rect x="660.97" y="593.47" width="6.1" height="6.1" fill="#72d49b" fill-opacity="0.9"/><rect x="664.74" y="584.52" width="6.1" height="6.1" fill="#72d49b" fill-opacity="0.9"/><rect x="668.52" y="571.29" width="6.1" height="6.1" fill="#72d49b" fill-opacity="0.9"/><path d="M513.00,602.09 L516.78,611.61 L520.55,618.75 L524.33,620.88 L528.10,615.81 L531.88,605.38 L535.65,592.53 L539.43,580.19 L543.20,571.28 L546.98,568.77 L550.75,574.91 L554.53,586.72 L558.30,599.86 L562.08,610.02 L565.86,612.89 L569.63,606.71 L573.41,595.02 L577.18,582.00 L580.96,571.85 L584.73,568.75 L588.51,574.74 L592.28,586.57 L596.06,600.14 L599.83,611.38 L603.61,616.20 L607.39,611.11 L611.16,598.49 L614.94,583.20 L618.71,570.06 L622.49,563.94 L626.26,567.01 L630.04,575.78 L633.81,587.42 L637.59,599.13 L641.36,608.09 L645.14,611.49 L648.91,606.91 L652.69,596.55 L656.47,584.43 L660.24,574.55 L664.02,570.93 L667.79,575.24 L671.57,584.64" fill="none" stroke="#7dd9a5" stroke-width="1.25" stroke-opacity="1" stroke-linejoin="round"/><path d="M513.00,597.99 L513.87,600.89 L516.90,600.82 L514.40,602.54 L515.41,605.40 L513.00,603.56 L510.59,605.40 L511.60,602.54 L509.10,600.82 L512.13,600.89Z" fill="#78d6a0" fill-opacity="1"/><path d="M516.78,607.51 L517.64,610.42 L520.67,610.34 L518.18,612.07 L519.19,614.93 L516.78,613.09 L514.37,614.93 L515.37,612.07 L512.88,610.34 L515.91,610.42Z" fill="#78d6a0" fill-opacity="1"/><path d="M520.55,614.65 L521.42,617.56 L524.45,617.49 L521.95,619.21 L522.96,622.07 L520.55,620.23 L518.14,622.07 L519.15,619.21 L516.65,617.49 L519.68,617.56Z" fill="#78d6a0" fill-opacity="1"/><path d="M524.33,616.78 L525.19,619.69 L528.23,619.61 L525.73,621.34 L526.74,624.20 L524.33,622.36 L521.92,624.20 L522.92,621.34 L520.43,619.61 L523.46,619.69Z" fill="#78d6a0" fill-opacity="1"/><path d="M528.10,611.71 L528.97,614.62 L532.00,614.54 L529.51,616.27 L530.51,619.13 L528.10,617.29 L525.69,619.13 L526.70,616.27 L524.20,614.54 L527.23,614.62Z" fill="#78d6a0" fill-opacity="1"/><path d="M531.88,601.28 L532.74,604.19 L535.78,604.12 L533.28,605.84 L534.29,608.70 L531.88,606.86 L529.47,608.70 L530.47,605.84 L527.98,604.12 L531.01,604.19Z" fill="#78d6a0" fill-opacity="1"/><path d="M535.65,588.43 L536.52,591.34 L539.55,591.27 L537.06,592.99 L538.06,595.85 L535.65,594.01 L533.24,595.85 L534.25,592.99 L531.75,591.27 L534.78,591.34Z" fill="#78d6a0" fill-opacity="1"/><path d="M539.43,576.09 L540.30,578.99 L543.33,578.92 L540.83,580.64 L541.84,583.51 L539.43,581.66 L537.02,583.51 L538.02,580.64 L535.53,578.92 L538.56,578.99Z" fill="#78d6a0" fill-opacity="1"/><path d="M543.20,567.18 L544.07,570.09 L547.10,570.01 L544.61,571.74 L545.61,574.60 L543.20,572.76 L540.79,574.60 L541.80,571.74 L539.30,570.01 L542.34,570.09Z" fill="#78d6a0" fill-opacity="1"/><path d="M546.98,564.67 L547.85,567.58 L550.88,567.50 L548.38,569.23 L549.39,572.09 L546.98,570.25 L544.57,572.09 L545.57,569.23 L543.08,567.50 L546.11,567.58Z" fill="#78d6a0" fill-opacity="1"/><path d="M550.75,570.81 L551.62,573.72 L554.65,573.64 L552.16,575.37 L553.16,578.23 L550.75,576.39 L548.34,578.23 L549.35,575.37 L546.85,573.64 L549.89,573.72Z" fill="#78d6a0" fill-opacity="1"/><path d="M554.53,582.62 L555.40,585.52 L558.43,585.45 L555.93,587.17 L556.94,590.03 L554.53,588.19 L552.12,590.03 L553.13,587.17 L550.63,585.45 L553.66,585.52Z" fill="#78d6a0" fill-opacity="1"/><path d="M558.30,595.76 L559.17,598.67 L562.20,598.60 L559.71,600.32 L560.71,603.18 L558.30,601.34 L555.90,603.18 L556.90,600.32 L554.41,598.60 L557.44,598.67Z" fill="#78d6a0" fill-opacity="1"/><path d="M562.08,605.92 L562.95,608.83 L565.98,608.76 L563.48,610.48 L564.49,613.34 L562.08,611.50 L559.67,613.34 L560.68,610.48 L558.18,608.76 L561.21,608.83Z" fill="#78d6a0" fill-opacity="1"/><path d="M565.86,608.79 L566.72,611.70 L569.76,611.63 L567.26,613.35 L568.27,616.21 L565.86,614.37 L563.45,616.21 L564.45,613.35 L561.96,611.63 L564.99,611.70Z" fill="#78d6a0" fill-opacity="1"/><path d="M569.63,602.61 L570.50,605.52 L573.53,605.45 L571.04,607.17 L572.04,610.03 L569.63,608.19 L567.22,610.03 L568.23,607.17 L565.73,605.45 L568.76,605.52Z" fill="#78d6a0" fill-opacity="1"/><path d="M573.41,590.92 L574.27,593.83 L577.31,593.75 L574.81,595.48 L575.82,598.34 L573.41,596.50 L571.00,598.34 L572.00,595.48 L569.51,593.75 L572.54,593.83Z" fill="#78d6a0" fill-opacity="1"/><path d="M577.18,577.90 L578.05,580.81 L581.08,580.74 L578.59,582.46 L579.59,585.32 L577.18,583.48 L574.77,585.32 L575.78,582.46 L573.28,580.74 L576.31,580.81Z" fill="#78d6a0" fill-opacity="1"/><path d="M580.96,567.75 L581.83,570.66 L584.86,570.58 L582.36,572.31 L583.37,575.17 L580.96,573.33 L578.55,575.17 L579.55,572.31 L577.06,570.58 L580.09,570.66Z" fill="#78d6a0" fill-opacity="1"/><path d="M584.73,564.65 L585.60,567.55 L588.63,567.48 L586.14,569.20 L587.14,572.06 L584.73,570.22 L582.32,572.06 L583.33,569.20 L580.83,567.48 L583.87,567.55Z" fill="#78d6a0" fill-opacity="1"/><path d="M588.51,570.64 L589.38,573.55 L592.41,573.47 L589.91,575.20 L590.92,578.06 L588.51,576.22 L586.10,578.06 L587.10,575.20 L584.61,573.47 L587.64,573.55Z" fill="#78d6a0" fill-opacity="1"/><path d="M592.28,582.47 L593.15,585.37 L596.18,585.30 L593.69,587.02 L594.69,589.88 L592.28,588.04 L589.87,589.88 L590.88,587.02 L588.38,585.30 L591.42,585.37Z" fill="#78d6a0" fill-opacity="1"/><path d="M596.06,596.04 L596.93,598.94 L599.96,598.87 L597.46,600.59 L598.47,603.46 L596.06,601.61 L593.65,603.46 L594.66,600.59 L592.16,598.87 L595.19,598.94Z" fill="#78d6a0" fill-opacity="1"/><path d="M599.83,607.28 L600.70,610.18 L603.73,610.11 L601.24,611.83 L602.24,614.69 L599.83,612.85 L597.42,614.69 L598.43,611.83 L595.94,610.11 L598.97,610.18Z" fill="#78d6a0" fill-opacity="1"/><path d="M603.61,612.10 L604.48,615.00 L607.51,614.93 L605.01,616.65 L606.02,619.51 L603.61,617.67 L601.20,619.51 L602.21,616.65 L599.71,614.93 L602.74,615.00Z" fill="#78d6a0" fill-opacity="1"/><path d="M607.39,607.01 L608.25,609.92 L611.28,609.84 L608.79,611.57 L609.80,614.43 L607.39,612.59 L604.98,614.43 L605.98,611.57 L603.49,609.84 L606.52,609.92Z" fill="#78d6a0" fill-opacity="1"/><path d="M611.16,594.39 L612.03,597.30 L615.06,597.23 L612.56,598.95 L613.57,601.81 L611.16,599.97 L608.75,601.81 L609.76,598.95 L607.26,597.23 L610.29,597.30Z" fill="#78d6a0" fill-opacity="1"/><path d="M614.94,579.10 L615.80,582.00 L618.84,581.93 L616.34,583.65 L617.35,586.51 L614.94,584.67 L612.53,586.51 L613.53,583.65 L611.04,581.93 L614.07,582.00Z" fill="#78d6a0" fill-opacity="1"/><path d="M618.71,565.96 L619.58,568.87 L622.61,568.80 L620.12,570.52 L621.12,573.38 L618.71,571.54 L616.30,573.38 L617.31,570.52 L614.81,568.80 L617.84,568.87Z" fill="#78d6a0" fill-opacity="1"/><path d="M622.49,559.84 L623.35,562.75 L626.39,562.67 L623.89,564.40 L624.90,567.26 L622.49,565.42 L620.08,567.26 L621.08,564.40 L618.59,562.67 L621.62,562.75Z" fill="#78d6a0" fill-opacity="1"/><path d="M626.26,562.91 L627.13,565.82 L630.16,565.75 L627.67,567.47 L628.67,570.33 L626.26,568.49 L623.85,570.33 L624.86,567.47 L622.36,565.75 L625.39,565.82Z" fill="#78d6a0" fill-opacity="1"/><path d="M630.04,571.68 L630.91,574.59 L633.94,574.51 L631.44,576.24 L632.45,579.10 L630.04,577.26 L627.63,579.10 L628.63,576.24 L626.14,574.51 L629.17,574.59Z" fill="#78d6a0" fill-opacity="1"/><path d="M633.81,583.32 L634.68,586.23 L637.71,586.15 L635.22,587.88 L636.22,590.74 L633.81,588.90 L631.40,590.74 L632.41,587.88 L629.91,586.15 L632.95,586.23Z" fill="#78d6a0" fill-opacity="1"/><path d="M637.59,595.03 L638.46,597.93 L641.49,597.86 L638.99,599.58 L640.00,602.44 L637.59,600.60 L635.18,602.44 L636.18,599.58 L633.69,597.86 L636.72,597.93Z" fill="#78d6a0" fill-opacity="1"/><path d="M641.36,603.99 L642.23,606.89 L645.26,606.82 L642.77,608.54 L643.77,611.40 L641.36,609.56 L638.95,611.40 L639.96,608.54 L637.46,606.82 L640.50,606.89Z" fill="#78d6a0" fill-opacity="1"/><path d="M645.14,607.39 L646.01,610.30 L649.04,610.23 L646.54,611.95 L647.55,614.81 L645.14,612.97 L642.73,614.81 L643.74,611.95 L641.24,610.23 L644.27,610.30Z" fill="#78d6a0" fill-opacity="1"/><path d="M648.91,602.81 L649.78,605.71 L652.81,605.64 L650.32,607.36 L651.32,610.22 L648.91,608.38 L646.51,610.22 L647.51,607.36 L645.02,605.64 L648.05,605.71Z" fill="#78d6a0" fill-opacity="1"/><path d="M652.69,592.45 L653.56,595.35 L656.59,595.28 L654.09,597.00 L655.10,599.86 L652.69,598.02 L650.28,599.86 L651.29,597.00 L648.79,595.28 L651.82,595.35Z" fill="#78d6a0" fill-opacity="1"/><path d="M656.47,580.33 L657.33,583.23 L660.37,583.16 L657.87,584.88 L658.88,587.74 L656.47,585.90 L654.06,587.74 L655.06,584.88 L652.57,583.16 L655.60,583.23Z" fill="#78d6a0" fill-opacity="1"/><path d="M660.24,570.45 L661.11,573.36 L664.14,573.29 L661.65,575.01 L662.65,577.87 L660.24,576.03 L657.83,577.87 L658.84,575.01 L656.34,573.29 L659.37,573.36Z" fill="#78d6a0" fill-opacity="1"/><path d="M664.02,566.83 L664.88,569.74 L667.92,569.66 L665.42,571.39 L666.43,574.25 L664.02,572.41 L661.61,574.25 L662.61,571.39 L660.12,569.66 L663.15,569.74Z" fill="#78d6a0" fill-opacity="1"/><path d="M667.79,571.14 L668.66,574.04 L671.69,573.97 L669.20,575.69 L670.20,578.55 L667.79,576.71 L665.38,578.55 L666.39,575.69 L663.89,573.97 L666.92,574.04Z" fill="#78d6a0" fill-opacity="1"/><path d="M671.57,580.54 L672.44,583.44 L675.47,583.37 L672.97,585.09 L673.98,587.95 L671.57,586.11 L669.16,587.95 L670.16,585.09 L667.67,583.37 L670.70,583.44Z" fill="#78d6a0" fill-opacity="1"/><path d="M513.00,605.82 L516.78,605.32 L520.55,600.26 L524.33,592.74 L528.10,584.85 L531.88,578.67 L535.65,576.31 L539.43,579.53 L543.20,586.81 L546.98,595.40 L550.75,602.54 L554.53,605.50 L558.30,602.50 L562.08,595.29 L565.86,586.37 L569.63,578.25 L573.41,573.44 L577.18,574.42 L580.96,581.19 L584.73,590.87 L588.51,600.49 L592.28,607.06 L596.06,607.70 L599.83,602.15 L603.61,593.04 L607.39,583.10 L611.16,575.07 L614.94,571.70 L618.71,574.75 L622.49,582.21 L626.26,591.21 L630.04,598.86 L633.81,602.29 L637.59,599.59 L641.36,592.61 L645.14,584.08 L648.91,576.75 L652.69,573.32 L656.47,575.90 L660.24,583.11 L664.02,592.47 L667.79,601.49 L671.57,607.67" fill="none" stroke="#5ccb88" stroke-width="1.7" stroke-opacity="1" stroke-linejoin="round"/><circle cx="513.00" cy="605.82" r="3.3" fill="#58c985" fill-opacity="1"/><circle cx="516.78" cy="605.32" r="3.3" fill="#58c985" fill-opacity="1"/><circle cx="520.55" cy="600.26" r="3.3" fill="#58c985" fill-opacity="1"/><circle cx="524.33" cy="592.74" r="3.3" fill="#58c985" fill-opacity="1"/><circle cx="528.10" cy="584.85" r="3.3" fill="#58c985" fill-opacity="1"/><circle cx="531.88" cy="578.67" r="3.3" fill="#58c985" fill-opacity="1"/><circle cx="535.65" cy="576.31" r="3.3" fill="#58c985" fill-opacity="1"/><circle cx="539.43" cy="579.53" r="3.3" fill="#58c985" fill-opacity="1"/><circle cx="543.20" cy="586.81" r="3.3" fill="#58c985" fill-opacity="1"/><circle cx="546.98" cy="595.40" r="3.3" fill="#58c985" fill-opacity="1"/><circle cx="550.75" cy="602.54" r="3.3" fill="#58c985" fill-opacity="1"/><circle cx="554.53" cy="605.50" r="3.3" fill="#58c985" fill-opacity="1"/><circle cx="558.30" cy="602.50" r="3.3" fill="#58c985" fill-opacity="1"/><circle cx="562.08" cy="595.29" r="3.3" fill="#58c985" fill-opacity="1"/><circle cx="565.86" cy="586.37" r="3.3" fill="#58c985" fill-opacity="1"/><circle cx="569.63" cy="578.25" r="3.3" fill="#58c985" fill-opacity="1"/><circle cx="573.41" cy="573.44" r="3.3" fill="#58c985" fill-opacity="1"/><circle cx="577.18" cy="574.42" r="3.3" fill="#58c985" fill-opacity="1"/><circle cx="580.96" cy="581.19" r="3.3" fill="#58c985" fill-opacity="1"/><circle cx="584.73" cy="590.87" r="3.3" fill="#58c985" fill-opacity="1"/><circle cx="588.51" cy="600.49" r="3.3" fill="#58c985" fill-opacity="1"/><circle cx="592.28" cy="607.06" r="3.3" fill="#58c985" fill-opacity="1"/><circle cx="596.06" cy="607.70" r="3.3" fill="#58c985" fill-opacity="1"/><circle cx="599.83" cy="602.15" r="3.3" fill="#58c985" fill-opacity="1"/><circle cx="603.61" cy="593.04" r="3.3" fill="#58c985" fill-opacity="1"/><circle cx="607.39" cy="583.10" r="3.3" fill="#58c985" fill-opacity="1"/><circle cx="611.16" cy="575.07" r="3.3" fill="#58c985" fill-opacity="1"/><circle cx="614.94" cy="571.70" r="3.3" fill="#58c985" fill-opacity="1"/><circle cx="618.71" cy="574.75" r="3.3" fill="#58c985" fill-opacity="1"/><circle cx="622.49" cy="582.21" r="3.3" fill="#58c985" fill-opacity="1"/><circle cx="626.26" cy="591.21" r="3.3" fill="#58c985" fill-opacity="1"/><circle cx="630.04" cy="598.86" r="3.3" fill="#58c985" fill-opacity="1"/><circle cx="633.81" cy="602.29" r="3.3" fill="#58c985" fill-opacity="1"/><circle cx="637.59" cy="599.59" r="3.3" fill="#58c985" fill-opacity="1"/><circle cx="641.36" cy="592.61" r="3.3" fill="#58c985" fill-opacity="1"/><circle cx="645.14" cy="584.08" r="3.3" fill="#58c985" fill-opacity="1"/><circle cx="648.91" cy="576.75" r="3.3" fill="#58c985" fill-opacity="1"/><circle cx="652.69" cy="573.32" r="3.3" fill="#58c985" fill-opacity="1"/><circle cx="656.47" cy="575.90" r="3.3" fill="#58c985" fill-opacity="1"/><circle cx="660.24" cy="583.11" r="3.3" fill="#58c985" fill-opacity="1"/><circle cx="664.02" cy="592.47" r="3.3" fill="#58c985" fill-opacity="1"/><circle cx="667.79" cy="601.49" r="3.3" fill="#58c985" fill-opacity="1"/><circle cx="671.57" cy="607.67" r="3.3" fill="#58c985" fill-opacity="1"/></g>
<line x1="515.2" y1="522.4" x2="543.9" y2="522.4" stroke="#7cd8a2" stroke-width="1.35" stroke-opacity="1"/>
<rect x="526.35" y="519.35" width="6.1" height="6.1" fill="#72d49b" fill-opacity="0.9"/>
<text x="546.3" y="526.6" font-family="'Liberation Serif', serif" font-size="12.1" word-spacing="1.3">-3 T</text>
<line x1="567.2" y1="522.4" x2="596" y2="522.4" stroke="#5ccb88" stroke-width="1.7" stroke-opacity="1"/>
<circle cx="581.50" cy="522.40" r="3.3" fill="#58c985" fill-opacity="1"/>
<text x="601.9" y="526.6" font-family="'Liberation Serif', serif" font-size="12.1" word-spacing="1.3">0 T</text>
<line x1="617.7" y1="522.4" x2="647.3" y2="522.4" stroke="#7dd9a5" stroke-width="1.25" stroke-opacity="1"/>
<path d="M632.60,518.30 L633.47,521.21 L636.50,521.13 L634.00,522.86 L635.01,525.72 L632.60,523.88 L630.19,525.72 L631.20,522.86 L628.70,521.13 L631.73,521.21Z" fill="#78d6a0" fill-opacity="1"/>
<text x="652.6" y="526.6" font-family="'Liberation Serif', serif" font-size="12.1" word-spacing="1.3">3 T</text>
<g font-family="'Liberation Serif', serif" font-size="14">
<text x="513.00" y="656.5" text-anchor="middle">0</text>
<text x="552.98" y="656.5" text-anchor="middle">90</text>
<text x="592.95" y="656.5" text-anchor="middle">180</text>
<text x="632.92" y="656.5" text-anchor="middle">270</text>
<text x="672.90" y="656.5" text-anchor="middle">360</text>
<text x="508.5" y="555.5" text-anchor="end">0</text>
<text x="508.5" y="600.4000000000001" text-anchor="end">-6</text>
<text x="508.5" y="645.3000000000001" text-anchor="end">-12</text>
<text x="593.45" y="666.5" text-anchor="middle" font-size="14.1">HWP angle (degree)</text>
<text transform="translate(486,576.95) rotate(-90)" text-anchor="middle" font-size="14.3">Photocurrent (pA)</text>
</g>
</svg></body></html>
